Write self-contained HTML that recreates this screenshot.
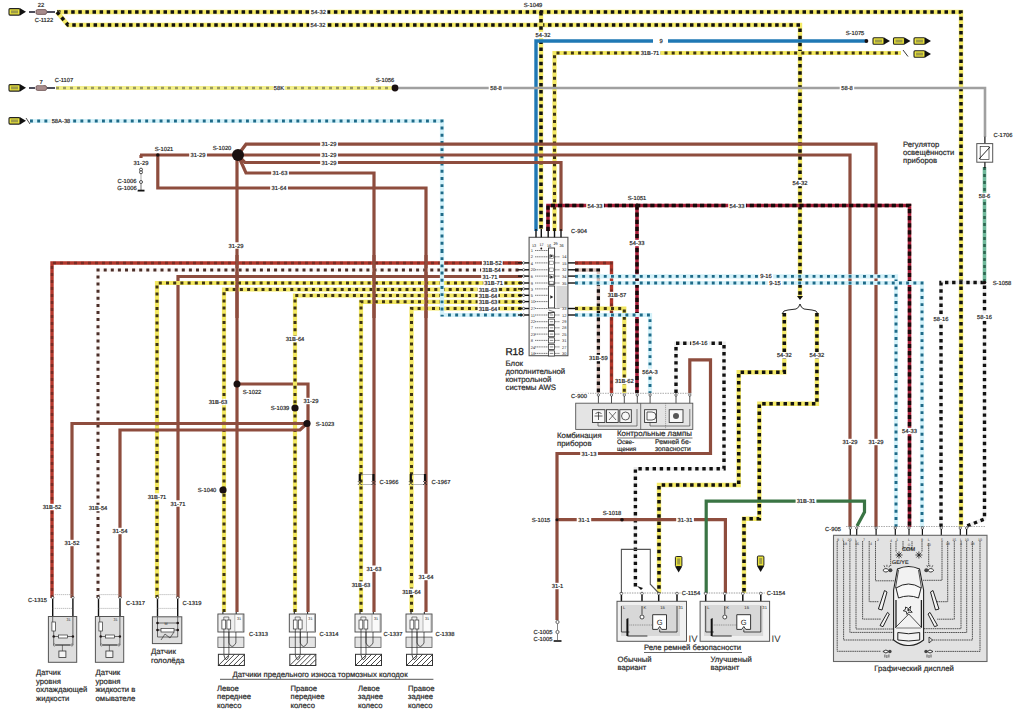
<!DOCTYPE html>
<html><head><meta charset="utf-8"><style>
html,body{margin:0;padding:0;background:#fff;overflow:hidden;}
svg{display:block;}
text{font-family:"Liberation Sans",sans-serif;text-rendering:geometricPrecision;}
</style></head><body>
<svg width="1016" height="712" viewBox="0 0 1016 712">
<rect width="1016" height="712" fill="#fff"/>
<path d="M57,12 L961,12 L961,527" fill="none" stroke="#f4ea68" stroke-width="4.4" stroke-linejoin="miter"/>
<path d="M57,12 L961,12 L961,527" fill="none" stroke="#111" stroke-width="3.5" stroke-linejoin="miter" stroke-dasharray="3.5 3.6"/>
<path d="M57,12 L68,25 L800,25 L800,298" fill="none" stroke="#f4ea68" stroke-width="4.4" stroke-linejoin="miter"/>
<path d="M57,12 L68,25 L800,25 L800,298" fill="none" stroke="#111" stroke-width="3.5" stroke-linejoin="miter" stroke-dasharray="3.5 3.6"/>
<path d="M541,12 L541,229" fill="none" stroke="#f4ea68" stroke-width="4.4" stroke-linejoin="miter"/>
<path d="M541,12 L541,229" fill="none" stroke="#111" stroke-width="3.5" stroke-linejoin="miter" stroke-dasharray="3.5 3.6"/>
<path d="M536,231 L536,41 L653,41" fill="none" stroke="#1f78b4" stroke-width="3.4" stroke-linejoin="miter"/>
<path d="M668,41 L866,41" fill="none" stroke="#1f78b4" stroke-width="3.4" stroke-linejoin="miter"/>
<path d="M554.5,231 L554.5,53 L901,53" fill="none" stroke="#f3e862" stroke-width="4.2" stroke-linejoin="miter"/>
<path d="M554.5,231 L554.5,53 L901,53" fill="none" stroke="#3e3414" stroke-width="3.0" stroke-linejoin="miter" stroke-dasharray="3 4.2"/>
<path d="M395,88 L985,88 L985,137" fill="none" stroke="#a0a0a0" stroke-width="2.6" stroke-linejoin="miter"/>
<path d="M56,88 L395,88" fill="none" stroke="#f3ef8a" stroke-width="4.0" stroke-linejoin="miter"/>
<path d="M56,88 L395,88" fill="none" stroke="#9a9a60" stroke-width="2.6" stroke-linejoin="miter" stroke-dasharray="3 4"/>
<path d="M30,121 L442,121 L442,315 L522,315" fill="none" stroke="#d4f2fa" stroke-width="4.2" stroke-linejoin="miter"/>
<path d="M30,121 L442,121 L442,315 L522,315" fill="none" stroke="#1f6a88" stroke-width="2.9" stroke-linejoin="miter" stroke-dasharray="2.9 4.3"/>
<path d="M140,155 L238,155" fill="none" stroke="#8e4d3e" stroke-width="3.2" stroke-linejoin="miter"/>
<path d="M157.8,155 L157.8,188 L426,188 L426,612" fill="none" stroke="#8e4d3e" stroke-width="3.2" stroke-linejoin="miter"/>
<path d="M238,155 L246,144.2 L876,144.2 L876,527" fill="none" stroke="#8e4d3e" stroke-width="3.2" stroke-linejoin="miter"/>
<path d="M238,155 L850,155 L850,527" fill="none" stroke="#8e4d3e" stroke-width="3.2" stroke-linejoin="miter"/>
<path d="M238,155 L245,162.5 L561,162.5 L561,231" fill="none" stroke="#8e4d3e" stroke-width="3.2" stroke-linejoin="miter"/>
<path d="M238,155 L246,173 L374,173 L374,612" fill="none" stroke="#8e4d3e" stroke-width="3.2" stroke-linejoin="miter"/>
<path d="M237,155 L237,612" fill="none" stroke="#8e4d3e" stroke-width="3.2" stroke-linejoin="miter"/>
<path d="M237,384 L308,384 L308,612" fill="none" stroke="#8e4d3e" stroke-width="3.2" stroke-linejoin="miter"/>
<path d="M52,598 L52,263 L522,263" fill="none" stroke="#b4382c" stroke-width="3.4" stroke-linejoin="miter"/>
<path d="M52,598 L52,263 L522,263" fill="none" stroke="#782c24" stroke-width="2.4" stroke-linejoin="miter" stroke-dasharray="3 4"/>
<path d="M98,598 L98,270 L522,270" fill="none" stroke="#fbf5f3" stroke-width="3.6" stroke-linejoin="miter"/>
<path d="M98,598 L98,270 L522,270" fill="none" stroke="#4a2e28" stroke-width="3.0" stroke-linejoin="miter" stroke-dasharray="3 4.1"/>
<path d="M178,598 L178,276.5 L522,276.5" fill="none" stroke="#8e4d3e" stroke-width="3.2" stroke-linejoin="miter"/>
<path d="M157,598 L157,283 L522,283" fill="none" stroke="#f3e862" stroke-width="4.2" stroke-linejoin="miter"/>
<path d="M157,598 L157,283 L522,283" fill="none" stroke="#3e3414" stroke-width="3.0" stroke-linejoin="miter" stroke-dasharray="3 4.2"/>
<path d="M224,612 L224,289.5 L522,289.5" fill="none" stroke="#f3e862" stroke-width="4.2" stroke-linejoin="miter"/>
<path d="M224,612 L224,289.5 L522,289.5" fill="none" stroke="#3e3414" stroke-width="3.0" stroke-linejoin="miter" stroke-dasharray="3 4.2"/>
<path d="M295,612 L295,295.5 L522,295.5" fill="none" stroke="#f3e862" stroke-width="4.2" stroke-linejoin="miter"/>
<path d="M295,612 L295,295.5 L522,295.5" fill="none" stroke="#3e3414" stroke-width="3.0" stroke-linejoin="miter" stroke-dasharray="3 4.2"/>
<path d="M361,612 L361,301.8 L522,301.8" fill="none" stroke="#f3e862" stroke-width="4.2" stroke-linejoin="miter"/>
<path d="M361,612 L361,301.8 L522,301.8" fill="none" stroke="#3e3414" stroke-width="3.0" stroke-linejoin="miter" stroke-dasharray="3 4.2"/>
<path d="M411.5,612 L411.5,308.5 L522,308.5" fill="none" stroke="#f3e862" stroke-width="4.2" stroke-linejoin="miter"/>
<path d="M411.5,612 L411.5,308.5 L522,308.5" fill="none" stroke="#3e3414" stroke-width="3.0" stroke-linejoin="miter" stroke-dasharray="3 4.2"/>
<path d="M72,598 L72,423.5 L307,423.5" fill="none" stroke="#8e4d3e" stroke-width="3.2" stroke-linejoin="miter"/>
<path d="M120,598 L120,430 L300,430 L307,423.5" fill="none" stroke="#8e4d3e" stroke-width="3.2" stroke-linejoin="miter"/>
<path d="M374,255 L374,318" fill="none" stroke="#8e4d3e" stroke-width="3.2" stroke-linejoin="miter"/>
<path d="M426,255 L426,318" fill="none" stroke="#8e4d3e" stroke-width="3.2" stroke-linejoin="miter"/>
<path d="M442,250 L442,315" fill="none" stroke="#d4f2fa" stroke-width="4.2" stroke-linejoin="miter"/>
<path d="M442,250 L442,315" fill="none" stroke="#1f6a88" stroke-width="2.9" stroke-linejoin="miter" stroke-dasharray="2.9 4.3"/>
<path d="M237,255 L237,318" fill="none" stroke="#8e4d3e" stroke-width="3.2" stroke-linejoin="miter"/>
<path d="M548,231 L548,205.5 L909.5,205.5 L909.5,527" fill="none" stroke="#a8203a" stroke-width="3.6" stroke-linejoin="miter"/>
<path d="M548,231 L548,205.5 L909.5,205.5 L909.5,527" fill="none" stroke="#150a0a" stroke-width="3.4" stroke-linejoin="miter" stroke-dasharray="4.2 2.9"/>
<path d="M637,205.5 L637,393" fill="none" stroke="#a8203a" stroke-width="3.6" stroke-linejoin="miter"/>
<path d="M637,205.5 L637,393" fill="none" stroke="#150a0a" stroke-width="3.4" stroke-linejoin="miter" stroke-dasharray="4.2 2.9"/>
<path d="M575,263 L611.5,263 L611.5,393" fill="none" stroke="#b4382c" stroke-width="3.4" stroke-linejoin="miter"/>
<path d="M575,263 L611.5,263 L611.5,393" fill="none" stroke="#782c24" stroke-width="2.4" stroke-linejoin="miter" stroke-dasharray="3 4"/>
<path d="M575,270 L598.4,270 L598.4,393" fill="none" stroke="#d8c0b8" stroke-width="3.4" stroke-linejoin="miter"/>
<path d="M575,270 L598.4,270 L598.4,393" fill="none" stroke="#141010" stroke-width="3.2" stroke-linejoin="miter" stroke-dasharray="3.6 3.5"/>
<path d="M575,276.4 L896,276.4 L896,527" fill="none" stroke="#d4f2fa" stroke-width="4.2" stroke-linejoin="miter"/>
<path d="M575,276.4 L896,276.4 L896,527" fill="none" stroke="#1f6a88" stroke-width="2.9" stroke-linejoin="miter" stroke-dasharray="2.9 4.3"/>
<path d="M575,283 L922,283 L922,527" fill="none" stroke="#d4f2fa" stroke-width="4.2" stroke-linejoin="miter"/>
<path d="M575,283 L922,283 L922,527" fill="none" stroke="#1f6a88" stroke-width="2.9" stroke-linejoin="miter" stroke-dasharray="2.9 4.3"/>
<path d="M575,308.5 L624.3,308.5 L624.3,393" fill="none" stroke="#f3e862" stroke-width="4.2" stroke-linejoin="miter"/>
<path d="M575,308.5 L624.3,308.5 L624.3,393" fill="none" stroke="#3e3414" stroke-width="3.0" stroke-linejoin="miter" stroke-dasharray="3 4.2"/>
<path d="M575,315 L650,315 L650,393" fill="none" stroke="#d4f2fa" stroke-width="4.2" stroke-linejoin="miter"/>
<path d="M575,315 L650,315 L650,393" fill="none" stroke="#1f6a88" stroke-width="2.9" stroke-linejoin="miter" stroke-dasharray="2.9 4.3"/>
<path d="M941,527 L941,282.5 L984.5,282.5 L984.5,519 L967,526" fill="none" stroke="#eeeeee" stroke-width="3.6" stroke-linejoin="miter"/>
<path d="M941,527 L941,282.5 L984.5,282.5 L984.5,519 L967,526" fill="none" stroke="#111" stroke-width="3.4" stroke-linejoin="miter" stroke-dasharray="3.4 3.7"/>
<path d="M984.5,167 L984.5,282.5" fill="none" stroke="#6fb89a" stroke-width="3.6" stroke-linejoin="miter"/>
<path d="M984.5,167 L984.5,282.5" fill="none" stroke="#2e6650" stroke-width="2.6" stroke-linejoin="miter" stroke-dasharray="3 4"/>
<path d="M784.3,313 L784.3,372.2 L738.7,372.2 L738.7,485 L659,485 L659,593" fill="none" stroke="#f4ea68" stroke-width="4.4" stroke-linejoin="miter"/>
<path d="M784.3,313 L784.3,372.2 L738.7,372.2 L738.7,485 L659,485 L659,593" fill="none" stroke="#111" stroke-width="3.5" stroke-linejoin="miter" stroke-dasharray="3.5 3.6"/>
<path d="M816.9,313 L816.9,403.8 L759.3,403.8 L759.3,518.8 L744,518.8 L744,593" fill="none" stroke="#f4ea68" stroke-width="4.4" stroke-linejoin="miter"/>
<path d="M816.9,313 L816.9,403.8 L759.3,403.8 L759.3,518.8 L744,518.8 L744,593" fill="none" stroke="#111" stroke-width="3.5" stroke-linejoin="miter" stroke-dasharray="3.5 3.6"/>
<path d="M676,393 L676,343.3 L724,343.3 L724,468.7 L635.4,468.7 L635.4,587" fill="none" stroke="#eeeeee" stroke-width="3.6" stroke-linejoin="miter"/>
<path d="M676,393 L676,343.3 L724,343.3 L724,468.7 L635.4,468.7 L635.4,587" fill="none" stroke="#111" stroke-width="3.4" stroke-linejoin="miter" stroke-dasharray="3.4 3.7"/>
<path d="M689.8,393 L689.8,359.9 L710.5,359.9 L710.5,453.5 L557,453.5 L557,620" fill="none" stroke="#8e4d3e" stroke-width="3.2" stroke-linejoin="miter"/>
<path d="M557,519.7 L725.4,519.7 L725.4,593" fill="none" stroke="#8e4d3e" stroke-width="3.2" stroke-linejoin="miter"/>
<path d="M706.2,593 L706.2,501.1 L864.5,501.1 L864.5,512 L857,526" fill="none" stroke="#3a7444" stroke-width="3.2" stroke-linejoin="miter"/>
<path d="M797,296 L800,300 L803,296 Z" fill="#111"/>
<path d="M782,314 Q783,310 788,310 L796,309 Q799,308 800,304 Q801,308 804,309 L812,310 Q817,310 818,314" fill="none" stroke="#111" stroke-width="0.9"/>
<rect x="9" y="8.6" width="11" height="6.5" rx="1" fill="#e8e23a" stroke="#222" stroke-width="1.1"/>
<rect x="11" y="10.4" width="7" height="2.9" fill="#555" opacity="0.5"/>
<path d="M20,8.299999999999999 L26,11.85 L20,15.4 Z" fill="#111"/>
<line x1="29" y1="12" x2="35" y2="12" stroke="#223" stroke-width="1.6"/>
<rect x="36" y="9.6" width="10.5" height="4.8" rx="1.5" fill="#a88c8c" stroke="#6a5050" stroke-width="0.8"/>
<line x1="47" y1="12" x2="55" y2="12" stroke="#223" stroke-width="1.6"/>
<rect x="9" y="84.6" width="11" height="6.5" rx="1" fill="#e8e23a" stroke="#222" stroke-width="1.1"/>
<rect x="11" y="86.39999999999999" width="7" height="2.9" fill="#555" opacity="0.5"/>
<path d="M20,84.3 L26,87.85 L20,91.39999999999999 Z" fill="#111"/>
<line x1="29" y1="88" x2="35" y2="88" stroke="#223" stroke-width="1.6"/>
<rect x="36" y="85.6" width="10.5" height="4.8" rx="1.5" fill="#a88c8c" stroke="#6a5050" stroke-width="0.8"/>
<line x1="47" y1="88" x2="55" y2="88" stroke="#223" stroke-width="1.6"/>
<rect x="9" y="117.6" width="11" height="6.5" rx="1" fill="#e8e23a" stroke="#222" stroke-width="1.1"/>
<rect x="11" y="119.39999999999999" width="7" height="2.9" fill="#555" opacity="0.5"/>
<path d="M20,117.3 L26,120.85 L20,124.39999999999999 Z" fill="#111"/>
<line x1="26" y1="118" x2="30" y2="124" stroke="#222" stroke-width="0.8"/>
<rect x="873" y="37.8" width="11" height="6.5" rx="1" fill="#e8e23a" stroke="#222" stroke-width="1.1"/>
<rect x="875" y="39.599999999999994" width="7" height="2.9" fill="#555" opacity="0.5"/>
<path d="M884,37.5 L890,41.05 L884,44.599999999999994 Z" fill="#111"/>
<rect x="893.5" y="37.8" width="11" height="6.5" rx="1" fill="#e8e23a" stroke="#222" stroke-width="1.1"/>
<rect x="895.5" y="39.599999999999994" width="7" height="2.9" fill="#555" opacity="0.5"/>
<path d="M904.5,37.5 L910.5,41.05 L904.5,44.599999999999994 Z" fill="#111"/>
<rect x="914" y="37.8" width="11" height="6.5" rx="1" fill="#e8e23a" stroke="#222" stroke-width="1.1"/>
<rect x="916" y="39.599999999999994" width="7" height="2.9" fill="#555" opacity="0.5"/>
<path d="M925,37.5 L931,41.05 L925,44.599999999999994 Z" fill="#111"/>
<rect x="914" y="50.8" width="11" height="6.5" rx="1" fill="#e8e23a" stroke="#222" stroke-width="1.1"/>
<rect x="916" y="52.599999999999994" width="7" height="2.9" fill="#555" opacity="0.5"/>
<path d="M925,50.5 L931,54.05 L925,57.599999999999994 Z" fill="#111"/>
<line x1="903" y1="50" x2="908" y2="56.5" stroke="#222" stroke-width="0.9"/>
<circle cx="866.4" cy="41" r="1.9" fill="#1a1010"/>
<rect x="675.4" y="556.5" width="6.5" height="10" rx="1" fill="#e8e23a" stroke="#222" stroke-width="1"/>
<rect x="677.1999999999999" y="558.5" width="2.9" height="6" fill="#555" opacity="0.5"/>
<path d="M675.1,566.5 L678.65,572.5 L682.1999999999999,566.5 Z" fill="#111"/>
<rect x="757.4" y="556" width="6.5" height="10" rx="1" fill="#e8e23a" stroke="#222" stroke-width="1"/>
<rect x="759.1999999999999" y="558" width="2.9" height="6" fill="#555" opacity="0.5"/>
<path d="M757.1,566 L760.65,572 L764.1999999999999,566 Z" fill="#111"/>
<rect x="529.1" y="237.3" width="38.8" height="118.4" fill="#fbfbfb" stroke="#555" stroke-width="1.1"/>
<rect x="556.5" y="286" width="10.5" height="22" fill="#d8d8d8"/>
<line x1="536" y1="229" x2="536" y2="237.3" stroke="#111" stroke-width="1.4"/>
<line x1="541.3" y1="229" x2="541.3" y2="237.3" stroke="#111" stroke-width="1.4"/>
<line x1="548.2" y1="229" x2="548.2" y2="237.3" stroke="#111" stroke-width="1.4"/>
<line x1="554.5" y1="229" x2="554.5" y2="237.3" stroke="#111" stroke-width="1.4"/>
<line x1="561" y1="229" x2="561" y2="237.3" stroke="#111" stroke-width="1.4"/>
<line x1="535" y1="250.5" x2="548.5" y2="250.5" stroke="#444" stroke-width="0.7" stroke-dasharray="1.3 0.5"/>
<text x="530.8" y="252.1" font-size="4.0" text-anchor="start" fill="#333" >1</text>
<line x1="535" y1="256.8" x2="548.5" y2="256.8" stroke="#444" stroke-width="0.7" stroke-dasharray="1.3 0.5"/>
<text x="530.8" y="258.40000000000003" font-size="4.0" text-anchor="start" fill="#333" >2</text>
<line x1="518" y1="262.9" x2="529.1" y2="262.9" stroke="#111" stroke-width="1.4"/>
<circle cx="523.6" cy="262.9" r="1.2" fill="#fff" stroke="#111" stroke-width="0.6"/>
<line x1="535" y1="262.9" x2="548.5" y2="262.9" stroke="#444" stroke-width="0.7" stroke-dasharray="1.3 0.5"/>
<text x="530.8" y="264.5" font-size="4.0" text-anchor="start" fill="#333" >4</text>
<line x1="518" y1="269.8" x2="529.1" y2="269.8" stroke="#111" stroke-width="1.4"/>
<circle cx="523.6" cy="269.8" r="1.2" fill="#fff" stroke="#111" stroke-width="0.6"/>
<line x1="535" y1="269.8" x2="548.5" y2="269.8" stroke="#444" stroke-width="0.7" stroke-dasharray="1.3 0.5"/>
<text x="530.8" y="271.40000000000003" font-size="4.0" text-anchor="start" fill="#333" >20</text>
<line x1="518" y1="276.1" x2="529.1" y2="276.1" stroke="#111" stroke-width="1.4"/>
<circle cx="523.6" cy="276.1" r="1.2" fill="#fff" stroke="#111" stroke-width="0.6"/>
<line x1="535" y1="276.1" x2="548.5" y2="276.1" stroke="#444" stroke-width="0.7" stroke-dasharray="1.3 0.5"/>
<text x="530.8" y="277.70000000000005" font-size="4.0" text-anchor="start" fill="#333" >6</text>
<line x1="518" y1="283" x2="529.1" y2="283" stroke="#111" stroke-width="1.4"/>
<circle cx="523.6" cy="283" r="1.2" fill="#fff" stroke="#111" stroke-width="0.6"/>
<line x1="535" y1="283" x2="548.5" y2="283" stroke="#444" stroke-width="0.7" stroke-dasharray="1.3 0.5"/>
<text x="530.8" y="284.6" font-size="4.0" text-anchor="start" fill="#333" >9</text>
<line x1="518" y1="288.9" x2="529.1" y2="288.9" stroke="#111" stroke-width="1.4"/>
<circle cx="523.6" cy="288.9" r="1.2" fill="#fff" stroke="#111" stroke-width="0.6"/>
<line x1="535" y1="288.9" x2="548.5" y2="288.9" stroke="#444" stroke-width="0.7" stroke-dasharray="1.3 0.5"/>
<text x="530.8" y="290.5" font-size="4.0" text-anchor="start" fill="#333" >3</text>
<line x1="518" y1="295.3" x2="529.1" y2="295.3" stroke="#111" stroke-width="1.4"/>
<circle cx="523.6" cy="295.3" r="1.2" fill="#fff" stroke="#111" stroke-width="0.6"/>
<line x1="535" y1="295.3" x2="548.5" y2="295.3" stroke="#444" stroke-width="0.7" stroke-dasharray="1.3 0.5"/>
<text x="530.8" y="296.90000000000003" font-size="4.0" text-anchor="start" fill="#333" >5</text>
<line x1="518" y1="301.6" x2="529.1" y2="301.6" stroke="#111" stroke-width="1.4"/>
<circle cx="523.6" cy="301.6" r="1.2" fill="#fff" stroke="#111" stroke-width="0.6"/>
<line x1="535" y1="301.6" x2="548.5" y2="301.6" stroke="#444" stroke-width="0.7" stroke-dasharray="1.3 0.5"/>
<text x="530.8" y="303.20000000000005" font-size="4.0" text-anchor="start" fill="#333" >10</text>
<line x1="518" y1="308.5" x2="529.1" y2="308.5" stroke="#111" stroke-width="1.4"/>
<circle cx="523.6" cy="308.5" r="1.2" fill="#fff" stroke="#111" stroke-width="0.6"/>
<line x1="535" y1="308.5" x2="548.5" y2="308.5" stroke="#444" stroke-width="0.7" stroke-dasharray="1.3 0.5"/>
<text x="530.8" y="310.1" font-size="4.0" text-anchor="start" fill="#333" >27</text>
<line x1="518" y1="315" x2="529.1" y2="315" stroke="#111" stroke-width="1.4"/>
<circle cx="523.6" cy="315" r="1.2" fill="#fff" stroke="#111" stroke-width="0.6"/>
<line x1="535" y1="315" x2="548.5" y2="315" stroke="#444" stroke-width="0.7" stroke-dasharray="1.3 0.5"/>
<text x="530.8" y="316.6" font-size="4.0" text-anchor="start" fill="#333" >11</text>
<line x1="535" y1="321.7" x2="548.5" y2="321.7" stroke="#444" stroke-width="0.7" stroke-dasharray="1.3 0.5"/>
<text x="530.8" y="323.3" font-size="4.0" text-anchor="start" fill="#333" >22</text>
<line x1="535" y1="327.8" x2="548.5" y2="327.8" stroke="#444" stroke-width="0.7" stroke-dasharray="1.3 0.5"/>
<text x="530.8" y="329.40000000000003" font-size="4.0" text-anchor="start" fill="#333" >7</text>
<line x1="535" y1="334.1" x2="548.5" y2="334.1" stroke="#444" stroke-width="0.7" stroke-dasharray="1.3 0.5"/>
<text x="530.8" y="335.70000000000005" font-size="4.0" text-anchor="start" fill="#333" >23</text>
<line x1="535" y1="340.4" x2="548.5" y2="340.4" stroke="#444" stroke-width="0.7" stroke-dasharray="1.3 0.5"/>
<text x="530.8" y="342.0" font-size="4.0" text-anchor="start" fill="#333" >8</text>
<line x1="535" y1="346.9" x2="548.5" y2="346.9" stroke="#444" stroke-width="0.7" stroke-dasharray="1.3 0.5"/>
<text x="530.8" y="348.5" font-size="4.0" text-anchor="start" fill="#333" >24</text>
<line x1="535" y1="353.4" x2="548.5" y2="353.4" stroke="#444" stroke-width="0.7" stroke-dasharray="1.3 0.5"/>
<text x="530.8" y="355.0" font-size="4.0" text-anchor="start" fill="#333" >18</text>
<line x1="554.6" y1="256.8" x2="560" y2="256.8" stroke="#444" stroke-width="0.7" stroke-dasharray="1.3 0.5"/>
<text x="566.5" y="258.40000000000003" font-size="4.0" text-anchor="end" fill="#333" >14</text>
<line x1="554.6" y1="262.9" x2="560" y2="262.9" stroke="#444" stroke-width="0.7" stroke-dasharray="1.3 0.5"/>
<line x1="568" y1="262.9" x2="575" y2="262.9" stroke="#111" stroke-width="1.4"/>
<text x="566.5" y="264.5" font-size="4.0" text-anchor="end" fill="#333" >15</text>
<line x1="554.6" y1="269.8" x2="560" y2="269.8" stroke="#444" stroke-width="0.7" stroke-dasharray="1.3 0.5"/>
<line x1="568" y1="269.8" x2="575" y2="269.8" stroke="#111" stroke-width="1.4"/>
<text x="566.5" y="271.40000000000003" font-size="4.0" text-anchor="end" fill="#333" >32</text>
<line x1="554.6" y1="276.1" x2="560" y2="276.1" stroke="#444" stroke-width="0.7" stroke-dasharray="1.3 0.5"/>
<line x1="568" y1="276.1" x2="575" y2="276.1" stroke="#111" stroke-width="1.4"/>
<text x="566.5" y="277.70000000000005" font-size="4.0" text-anchor="end" fill="#333" >34</text>
<line x1="554.6" y1="283" x2="560" y2="283" stroke="#444" stroke-width="0.7" stroke-dasharray="1.3 0.5"/>
<line x1="568" y1="283" x2="575" y2="283" stroke="#111" stroke-width="1.4"/>
<text x="566.5" y="284.6" font-size="4.0" text-anchor="end" fill="#333" >35</text>
<line x1="554.6" y1="308.5" x2="560" y2="308.5" stroke="#444" stroke-width="0.7" stroke-dasharray="1.3 0.5"/>
<line x1="568" y1="308.5" x2="575" y2="308.5" stroke="#111" stroke-width="1.4"/>
<text x="566.5" y="310.1" font-size="4.0" text-anchor="end" fill="#333" >33</text>
<line x1="554.6" y1="315" x2="560" y2="315" stroke="#444" stroke-width="0.7" stroke-dasharray="1.3 0.5"/>
<line x1="568" y1="315" x2="575" y2="315" stroke="#111" stroke-width="1.4"/>
<text x="566.5" y="316.6" font-size="4.0" text-anchor="end" fill="#333" >12</text>
<line x1="554.6" y1="321.7" x2="560" y2="321.7" stroke="#444" stroke-width="0.7" stroke-dasharray="1.3 0.5"/>
<text x="566.5" y="323.3" font-size="4.0" text-anchor="end" fill="#333" >29</text>
<line x1="554.6" y1="327.8" x2="560" y2="327.8" stroke="#444" stroke-width="0.7" stroke-dasharray="1.3 0.5"/>
<text x="566.5" y="329.40000000000003" font-size="4.0" text-anchor="end" fill="#333" >28</text>
<line x1="554.6" y1="334.1" x2="560" y2="334.1" stroke="#444" stroke-width="0.7" stroke-dasharray="1.3 0.5"/>
<text x="566.5" y="335.70000000000005" font-size="4.0" text-anchor="end" fill="#333" >25</text>
<line x1="554.6" y1="340.4" x2="560" y2="340.4" stroke="#444" stroke-width="0.7" stroke-dasharray="1.3 0.5"/>
<text x="566.5" y="342.0" font-size="4.0" text-anchor="end" fill="#333" >31</text>
<line x1="554.6" y1="346.9" x2="560" y2="346.9" stroke="#444" stroke-width="0.7" stroke-dasharray="1.3 0.5"/>
<text x="566.5" y="348.5" font-size="4.0" text-anchor="end" fill="#333" >27</text>
<line x1="554.6" y1="353.4" x2="560" y2="353.4" stroke="#444" stroke-width="0.7" stroke-dasharray="1.3 0.5"/>
<text x="566.5" y="355.0" font-size="4.0" text-anchor="end" fill="#333" >30</text>
<rect x="548.5" y="248" width="6.1" height="36.3" fill="#fff" stroke="#333" stroke-width="0.9"/>
<rect x="548.5" y="286" width="6.1" height="22" fill="#fff" stroke="#333" stroke-width="0.9"/>
<path d="M550.3,254.2 L553.3,256 L550.3,257.8 Z" fill="#222"/>
<path d="M550.3,275.2 L553.3,277 L550.3,278.8 Z" fill="#222"/>
<path d="M550.3,295.2 L553.3,297 L550.3,298.8 Z" fill="#222"/>
<rect x="549.5" y="255.0" width="4.2" height="3.6" fill="none" stroke="#555" stroke-width="0.5"/>
<rect x="549.5" y="261.09999999999997" width="4.2" height="3.6" fill="none" stroke="#555" stroke-width="0.5"/>
<rect x="549.5" y="268.0" width="4.2" height="3.6" fill="none" stroke="#555" stroke-width="0.5"/>
<rect x="549.5" y="274.3" width="4.2" height="3.6" fill="none" stroke="#555" stroke-width="0.5"/>
<rect x="549.5" y="281.2" width="4.2" height="3.6" fill="none" stroke="#555" stroke-width="0.5"/>
<rect x="548.5" y="312.4" width="6.1" height="5.2" fill="#fff" stroke="#333" stroke-width="0.8"/>
<line x1="549.8" y1="315" x2="553.3" y2="315" stroke="#333" stroke-width="0.6"/>
<rect x="548.5" y="319.09999999999997" width="6.1" height="5.2" fill="#fff" stroke="#333" stroke-width="0.8"/>
<line x1="549.8" y1="321.7" x2="553.3" y2="321.7" stroke="#333" stroke-width="0.6"/>
<rect x="548.5" y="325.2" width="6.1" height="5.2" fill="#fff" stroke="#333" stroke-width="0.8"/>
<line x1="549.8" y1="327.8" x2="553.3" y2="327.8" stroke="#333" stroke-width="0.6"/>
<rect x="548.5" y="331.5" width="6.1" height="5.2" fill="#fff" stroke="#333" stroke-width="0.8"/>
<line x1="549.8" y1="334.1" x2="553.3" y2="334.1" stroke="#333" stroke-width="0.6"/>
<rect x="548.5" y="337.79999999999995" width="6.1" height="5.2" fill="#fff" stroke="#333" stroke-width="0.8"/>
<line x1="549.8" y1="340.4" x2="553.3" y2="340.4" stroke="#333" stroke-width="0.6"/>
<rect x="548.5" y="344.29999999999995" width="6.1" height="5.2" fill="#fff" stroke="#333" stroke-width="0.8"/>
<line x1="549.8" y1="346.9" x2="553.3" y2="346.9" stroke="#333" stroke-width="0.6"/>
<rect x="548.5" y="350.79999999999995" width="6.1" height="5.2" fill="#fff" stroke="#333" stroke-width="0.8"/>
<line x1="549.8" y1="353.4" x2="553.3" y2="353.4" stroke="#333" stroke-width="0.6"/>
<path d="M548.5,310 L554.6,312 L548.5,314" fill="none" stroke="#333" stroke-width="0.6"/>
<text x="532" y="246.5" font-size="3.8" text-anchor="start" fill="#222" >13</text>
<text x="539.5" y="245.5" font-size="3.8" text-anchor="start" fill="#222" >17</text>
<text x="547" y="246.5" font-size="3.8" text-anchor="start" fill="#222" >16</text>
<text x="553.5" y="244.5" font-size="3.8" text-anchor="start" fill="#222" >29</text>
<text x="559.5" y="246.5" font-size="3.8" text-anchor="start" fill="#222" >36</text>
<circle cx="541.3" cy="248.5" r="0.9" fill="#1a1010"/>
<line x1="575" y1="393.3" x2="692" y2="393.3" stroke="#888" stroke-width="0.7" stroke-dasharray="1.5 1"/>
<circle cx="598.4" cy="395" r="1.2" fill="#fff" stroke="#222" stroke-width="0.6"/>
<line x1="598.4" y1="396" x2="598.4" y2="409" stroke="#222" stroke-width="0.8"/>
<circle cx="611.5" cy="395" r="1.2" fill="#fff" stroke="#222" stroke-width="0.6"/>
<line x1="611.5" y1="396" x2="611.5" y2="409" stroke="#222" stroke-width="0.8"/>
<circle cx="624.3" cy="395" r="1.2" fill="#fff" stroke="#222" stroke-width="0.6"/>
<line x1="624.3" y1="396" x2="624.3" y2="409" stroke="#222" stroke-width="0.8"/>
<circle cx="637.3" cy="395" r="1.2" fill="#fff" stroke="#222" stroke-width="0.6"/>
<line x1="637.3" y1="396" x2="637.3" y2="409" stroke="#222" stroke-width="0.8"/>
<circle cx="650.1" cy="395" r="1.2" fill="#fff" stroke="#222" stroke-width="0.6"/>
<line x1="650.1" y1="396" x2="650.1" y2="409" stroke="#222" stroke-width="0.8"/>
<circle cx="676" cy="395" r="1.2" fill="#fff" stroke="#222" stroke-width="0.6"/>
<line x1="676" y1="396" x2="676" y2="409" stroke="#222" stroke-width="0.8"/>
<circle cx="689.8" cy="395" r="1.2" fill="#fff" stroke="#222" stroke-width="0.6"/>
<line x1="689.8" y1="396" x2="689.8" y2="409" stroke="#222" stroke-width="0.8"/>
<rect x="575.7" y="403.2" width="117.1" height="26.2" fill="#e4e4e4" stroke="#555" stroke-width="0.9"/>
<line x1="640.7" y1="403.2" x2="640.7" y2="429.4" stroke="#555" stroke-width="0.8"/>
<line x1="665.6" y1="403.2" x2="665.6" y2="429.4" stroke="#666" stroke-width="0.6" stroke-dasharray="1 1"/>
<rect x="592.5" y="409.7" width="12.399999999999977" height="12.8" fill="#f8f8f8" stroke="#333" stroke-width="0.9"/>
<rect x="606.5" y="409.7" width="11.700000000000045" height="12.8" fill="#f8f8f8" stroke="#333" stroke-width="0.9"/>
<rect x="619.8" y="409.7" width="11.5" height="12.8" fill="#f8f8f8" stroke="#333" stroke-width="0.9"/>
<rect x="644.6" y="409.7" width="11.799999999999955" height="12.8" fill="#f8f8f8" stroke="#333" stroke-width="0.9"/>
<rect x="669.2" y="409.7" width="13.799999999999955" height="12.8" fill="#f8f8f8" stroke="#333" stroke-width="0.9"/>
<path d="M598,422.5 L598,426 L637,426 L637,409" fill="none" stroke="#333" stroke-width="0.6"/>
<path d="M650,422.5 L650,426 L689.8,426 L689.8,409" fill="none" stroke="#333" stroke-width="0.6"/>
<path d="M594.5,416 L602.5,416 M598.5,412 L598.5,420 M595.5,413.5 Q598.5,411 601.5,413.5" fill="none" stroke="#333" stroke-width="0.8"/>
<path d="M609,412 L616,420 M616,412 L609,420" stroke="#333" stroke-width="0.7"/>
<circle cx="625.5" cy="416" r="4" fill="none" stroke="#333" stroke-width="0.8"/>
<path d="M647,412 L652,412 A4,4 0 0 1 652,420 L647,420 Z" fill="none" stroke="#333" stroke-width="0.8"/>
<circle cx="676" cy="416" r="3" fill="#555"/>
<line x1="619.4" y1="593" x2="681" y2="593" stroke="#777" stroke-width="0.7" stroke-dasharray="1.5 1"/>
<circle cx="621.4" cy="593.5" r="1.3" fill="#fff" stroke="#222" stroke-width="0.6"/>
<line x1="621.4" y1="595" x2="621.4" y2="606" stroke="#111" stroke-width="1.5"/>
<circle cx="642" cy="593.5" r="1.3" fill="#fff" stroke="#222" stroke-width="0.6"/>
<line x1="642" y1="595" x2="642" y2="606" stroke="#111" stroke-width="1.5"/>
<circle cx="658.7" cy="593.5" r="1.3" fill="#fff" stroke="#222" stroke-width="0.6"/>
<line x1="658.7" y1="595" x2="658.7" y2="606" stroke="#111" stroke-width="1.5"/>
<circle cx="677" cy="593.5" r="1.3" fill="#fff" stroke="#222" stroke-width="0.6"/>
<line x1="677" y1="595" x2="677" y2="606" stroke="#111" stroke-width="1.5"/>
<rect x="617" y="601.3" width="69.5" height="40" fill="#f0f0f0" stroke="#555" stroke-width="1"/>
<rect x="621" y="605" width="59" height="31" fill="#d8d8d8"/>
<text x="622.9" y="609" font-size="4.2" text-anchor="start" fill="#222" >L</text>
<text x="643.5" y="609" font-size="4.2" text-anchor="start" fill="#222" >K</text>
<text x="660.2" y="609" font-size="4.2" text-anchor="start" fill="#222" >15</text>
<text x="678.5" y="609" font-size="4.2" text-anchor="start" fill="#222" >31</text>
<line x1="621.4" y1="606" x2="621.4" y2="632" stroke="#222" stroke-width="0.8"/>
<line x1="621.4" y1="632" x2="629.4" y2="632" stroke="#222" stroke-width="0.8"/>
<path d="M626.4,619 L628.4,618 L628.4,636 L626.4,636 Z" fill="#111"/>
<path d="M627.4,636 L647.4,636" fill="none" stroke="#222" stroke-width="0.9"/>
<line x1="642" y1="606" x2="642" y2="614.5" stroke="#222" stroke-width="0.8"/>
<circle cx="642" cy="617" r="2" fill="#fff" stroke="#222" stroke-width="0.8"/>
<line x1="629.4" y1="625" x2="652.7" y2="625" stroke="#444" stroke-width="0.5" stroke-dasharray="1 0.8"/>
<path d="M652.7,614.7 L666.5,614.7 L666.5,629.4 L661.7,629.4 L659.7,626.5 L657.7,629.4 L652.7,629.4 Z" fill="#fff" stroke="#222" stroke-width="0.9"/>
<text x="659.6" y="625.3" font-size="7.5" text-anchor="middle" fill="#111" >G</text>
<path d="M659.7,629.4 L659.7,632 L677,632 L677,606" fill="none" stroke="#222" stroke-width="0.8"/>
<line x1="703.7" y1="593" x2="764.8" y2="593" stroke="#777" stroke-width="0.7" stroke-dasharray="1.5 1"/>
<circle cx="705.7" cy="593.5" r="1.3" fill="#fff" stroke="#222" stroke-width="0.6"/>
<line x1="705.7" y1="595" x2="705.7" y2="606" stroke="#111" stroke-width="1.5"/>
<circle cx="724.8" cy="593.5" r="1.3" fill="#fff" stroke="#222" stroke-width="0.6"/>
<line x1="724.8" y1="595" x2="724.8" y2="606" stroke="#111" stroke-width="1.5"/>
<circle cx="742.8" cy="593.5" r="1.3" fill="#fff" stroke="#222" stroke-width="0.6"/>
<line x1="742.8" y1="595" x2="742.8" y2="606" stroke="#111" stroke-width="1.5"/>
<circle cx="760.8" cy="593.5" r="1.3" fill="#fff" stroke="#222" stroke-width="0.6"/>
<line x1="760.8" y1="595" x2="760.8" y2="606" stroke="#111" stroke-width="1.5"/>
<rect x="700.1" y="601.3" width="69.5" height="40" fill="#f0f0f0" stroke="#555" stroke-width="1"/>
<rect x="704.1" y="605" width="59" height="31" fill="#d8d8d8"/>
<text x="707.2" y="609" font-size="4.2" text-anchor="start" fill="#222" >L</text>
<text x="726.3" y="609" font-size="4.2" text-anchor="start" fill="#222" >K</text>
<text x="744.3" y="609" font-size="4.2" text-anchor="start" fill="#222" >15</text>
<text x="762.3" y="609" font-size="4.2" text-anchor="start" fill="#222" >31</text>
<line x1="705.7" y1="606" x2="705.7" y2="632" stroke="#222" stroke-width="0.8"/>
<line x1="705.7" y1="632" x2="713.7" y2="632" stroke="#222" stroke-width="0.8"/>
<path d="M710.7,619 L712.7,618 L712.7,636 L710.7,636 Z" fill="#111"/>
<path d="M711.7,636 L731.7,636" fill="none" stroke="#222" stroke-width="0.9"/>
<line x1="724.8" y1="606" x2="724.8" y2="614.5" stroke="#222" stroke-width="0.8"/>
<circle cx="724.8" cy="617" r="2" fill="#fff" stroke="#222" stroke-width="0.8"/>
<line x1="713.7" y1="625" x2="736.8" y2="625" stroke="#444" stroke-width="0.5" stroke-dasharray="1 0.8"/>
<path d="M736.8,614.7 L750.5999999999999,614.7 L750.5999999999999,629.4 L745.8,629.4 L743.8,626.5 L741.8,629.4 L736.8,629.4 Z" fill="#fff" stroke="#222" stroke-width="0.9"/>
<text x="743.6999999999999" y="625.3" font-size="7.5" text-anchor="middle" fill="#111" >G</text>
<path d="M743.8,629.4 L743.8,632 L760.8,632 L760.8,606" fill="none" stroke="#222" stroke-width="0.8"/>
<path d="M621.4,593 L621.4,549.4 L650.3,549.4 L650.3,584.2 L658.7,593" fill="none" stroke="#555" stroke-width="1.1"/>
<path d="M641,590 L637,586 L643,588 Z" fill="#111"/>
<text x="688.5" y="641.5" font-size="9.5" text-anchor="start" fill="#333" >IV</text>
<text x="771.5" y="641.5" font-size="9.5" text-anchor="start" fill="#333" >IV</text>
<circle cx="557.5" cy="622" r="1.6" fill="#fff" stroke="#222" stroke-width="0.7"/>
<circle cx="557.5" cy="632" r="1.6" fill="#fff" stroke="#222" stroke-width="0.7"/>
<line x1="557.5" y1="624" x2="557.5" y2="630" stroke="#333" stroke-width="0.6"/>
<line x1="557.5" y1="634" x2="557.5" y2="640" stroke="#333" stroke-width="0.6"/>
<line x1="553.5" y1="641" x2="561.5" y2="641" stroke="#111" stroke-width="1.6"/>
<path d="M141,155 L141,158" fill="none" stroke="#8e4d3e" stroke-width="3.2" stroke-linejoin="miter"/>
<circle cx="141" cy="169.6" r="1.5" fill="#fff" stroke="#222" stroke-width="0.8"/>
<circle cx="141" cy="172.3" r="1.5" fill="#fff" stroke="#222" stroke-width="0.8"/>
<circle cx="141" cy="182" r="1.5" fill="#fff" stroke="#222" stroke-width="0.8"/>
<line x1="141" y1="174" x2="141" y2="180" stroke="#555" stroke-width="0.5"/>
<line x1="141" y1="184" x2="141" y2="190" stroke="#333" stroke-width="0.7"/>
<line x1="137.5" y1="190.6" x2="144.5" y2="190.6" stroke="#111" stroke-width="1.8"/>
<line x1="984.9" y1="136.7" x2="984.9" y2="143.6" stroke="#111" stroke-width="1.2"/>
<rect x="976.8" y="143.6" width="15.9" height="18.6" fill="#fff" stroke="#555" stroke-width="1"/>
<rect x="980.2" y="146.5" width="8.8" height="13" fill="none" stroke="#333" stroke-width="0.7"/>
<line x1="979" y1="159" x2="990" y2="147" stroke="#111" stroke-width="0.9"/>
<line x1="984.9" y1="162.2" x2="984.9" y2="168" stroke="#111" stroke-width="1.2"/>
<line x1="52.7" y1="594.6" x2="72.9" y2="594.6" stroke="#888" stroke-width="0.6" stroke-dasharray="1.2 0.8"/>
<circle cx="52.7" cy="597.6" r="1.2" fill="#fff" stroke="#222" stroke-width="0.6"/>
<line x1="52.7" y1="599.1" x2="52.7" y2="616.5" stroke="#111" stroke-width="1.4"/>
<circle cx="72.9" cy="597.6" r="1.2" fill="#fff" stroke="#222" stroke-width="0.6"/>
<line x1="72.9" y1="599.1" x2="72.9" y2="616.5" stroke="#111" stroke-width="1.4"/>
<line x1="52.7" y1="608.4" x2="72.9" y2="608.4" stroke="#888" stroke-width="0.6" stroke-dasharray="1.2 0.8"/>
<line x1="98.5" y1="594.6" x2="120" y2="594.6" stroke="#888" stroke-width="0.6" stroke-dasharray="1.2 0.8"/>
<circle cx="98.5" cy="597.6" r="1.2" fill="#fff" stroke="#222" stroke-width="0.6"/>
<line x1="98.5" y1="599.1" x2="98.5" y2="616.5" stroke="#111" stroke-width="1.4"/>
<circle cx="120" cy="597.6" r="1.2" fill="#fff" stroke="#222" stroke-width="0.6"/>
<line x1="120" y1="599.1" x2="120" y2="616.5" stroke="#111" stroke-width="1.4"/>
<line x1="98.5" y1="608.4" x2="120" y2="608.4" stroke="#888" stroke-width="0.6" stroke-dasharray="1.2 0.8"/>
<line x1="157.5" y1="594.6" x2="177.7" y2="594.6" stroke="#888" stroke-width="0.6" stroke-dasharray="1.2 0.8"/>
<circle cx="157.5" cy="597.6" r="1.2" fill="#fff" stroke="#222" stroke-width="0.6"/>
<line x1="157.5" y1="599.1" x2="157.5" y2="616.5" stroke="#111" stroke-width="1.4"/>
<circle cx="177.7" cy="597.6" r="1.2" fill="#fff" stroke="#222" stroke-width="0.6"/>
<line x1="177.7" y1="599.1" x2="177.7" y2="616.5" stroke="#111" stroke-width="1.4"/>
<line x1="157.5" y1="608.4" x2="177.7" y2="608.4" stroke="#888" stroke-width="0.6" stroke-dasharray="1.2 0.8"/>
<rect x="48.4" y="616.5" width="28.3" height="45.8" fill="#dedede" stroke="#555" stroke-width="1"/>
<rect x="51.9" y="622" width="3.6" height="9" fill="#fff" stroke="#333" stroke-width="0.7"/>
<line x1="53.699999999999996" y1="631" x2="53.699999999999996" y2="636.5" stroke="#333" stroke-width="0.7"/>
<line x1="52.699999999999996" y1="616.5" x2="52.699999999999996" y2="622" stroke="#333" stroke-width="0.7"/>
<line x1="53.699999999999996" y1="636.5" x2="72.9" y2="636.5" stroke="#333" stroke-width="0.7"/>
<rect x="58.4" y="635" width="9" height="3" fill="#fff" stroke="#333" stroke-width="0.7"/>
<circle cx="53.699999999999996" cy="636.5" r="1.2" fill="#1a1010"/>
<circle cx="72.9" cy="636.5" r="1.2" fill="#1a1010"/>
<line x1="72.9" y1="616.5" x2="72.9" y2="645" stroke="#333" stroke-width="0.7"/>
<line x1="53.699999999999996" y1="636.5" x2="53.699999999999996" y2="645" stroke="#333" stroke-width="0.7"/>
<line x1="55.4" y1="645" x2="70.4" y2="645" stroke="#222" stroke-width="1.1"/>
<circle cx="54.4" cy="645" r="1" fill="#fff" stroke="#333" stroke-width="0.6"/>
<circle cx="71.9" cy="645" r="1" fill="#fff" stroke="#333" stroke-width="0.6"/>
<line x1="62.4" y1="645" x2="62.4" y2="651" stroke="#333" stroke-width="0.6"/>
<rect x="58.9" y="651" width="7" height="6.5" fill="#f4f4f4" stroke="#333" stroke-width="0.8"/>
<text x="66.4" y="621" font-size="3.8" text-anchor="start" fill="#333" >31</text>
<rect x="95.4" y="616.5" width="28.3" height="45.8" fill="#dedede" stroke="#555" stroke-width="1"/>
<rect x="98.9" y="622" width="3.6" height="9" fill="#fff" stroke="#333" stroke-width="0.7"/>
<line x1="100.7" y1="631" x2="100.7" y2="636.5" stroke="#333" stroke-width="0.7"/>
<line x1="99.7" y1="616.5" x2="99.7" y2="622" stroke="#333" stroke-width="0.7"/>
<line x1="100.7" y1="636.5" x2="119.9" y2="636.5" stroke="#333" stroke-width="0.7"/>
<rect x="105.4" y="635" width="9" height="3" fill="#fff" stroke="#333" stroke-width="0.7"/>
<circle cx="100.7" cy="636.5" r="1.2" fill="#1a1010"/>
<circle cx="119.9" cy="636.5" r="1.2" fill="#1a1010"/>
<line x1="119.9" y1="616.5" x2="119.9" y2="645" stroke="#333" stroke-width="0.7"/>
<line x1="100.7" y1="636.5" x2="100.7" y2="645" stroke="#333" stroke-width="0.7"/>
<line x1="102.4" y1="645" x2="117.4" y2="645" stroke="#222" stroke-width="1.1"/>
<circle cx="101.4" cy="645" r="1" fill="#fff" stroke="#333" stroke-width="0.6"/>
<circle cx="118.9" cy="645" r="1" fill="#fff" stroke="#333" stroke-width="0.6"/>
<line x1="109.4" y1="645" x2="109.4" y2="651" stroke="#333" stroke-width="0.6"/>
<rect x="105.9" y="651" width="7" height="6.5" fill="#f4f4f4" stroke="#333" stroke-width="0.8"/>
<text x="113.4" y="621" font-size="3.8" text-anchor="start" fill="#333" >31</text>
<rect x="152.4" y="616.8" width="29.4" height="26.8" fill="#dedede" stroke="#555" stroke-width="1"/>
<line x1="157.5" y1="616.5" x2="157.5" y2="637" stroke="#333" stroke-width="0.7"/>
<line x1="177.7" y1="616.5" x2="177.7" y2="637" stroke="#333" stroke-width="0.7"/>
<circle cx="157.5" cy="623" r="1.3" fill="#1a1010"/>
<circle cx="177.7" cy="623" r="1.3" fill="#1a1010"/>
<circle cx="157.5" cy="630" r="1.3" fill="#1a1010"/>
<circle cx="177.7" cy="630" r="1.3" fill="#1a1010"/>
<line x1="157.5" y1="623" x2="177.7" y2="623" stroke="#333" stroke-width="0.7"/>
<rect x="161" y="628.5" width="13" height="3.5" fill="#fff" stroke="#333" stroke-width="0.7"/>
<line x1="157.5" y1="630" x2="161" y2="630" stroke="#333" stroke-width="0.7"/>
<line x1="174" y1="630" x2="177.7" y2="630" stroke="#333" stroke-width="0.7"/>
<path d="M157.5,637 L177.7,637" fill="none" stroke="#333" stroke-width="0.7"/>
<path d="M161,640 L165,634 L170,638 L174,632" fill="none" stroke="#333" stroke-width="0.7"/>
<text x="166" y="624.5" font-size="3.6" text-anchor="middle" fill="#222" >M</text>
<line x1="222.9" y1="612" x2="222.9" y2="614" stroke="#111" stroke-width="1"/>
<line x1="236.20000000000002" y1="612" x2="236.20000000000002" y2="614" stroke="#111" stroke-width="1"/>
<rect x="217.9" y="614" width="26" height="18" fill="#f0f0f0" stroke="#444" stroke-width="0.9"/>
<rect x="234.9" y="614.5" width="8" height="17" fill="#fafafa" stroke="#888" stroke-width="0.6"/>
<rect x="221.9" y="620" width="3.8" height="9" fill="#fff" stroke="#333" stroke-width="0.7"/>
<rect x="226.9" y="620" width="3.8" height="9" fill="#fff" stroke="#333" stroke-width="0.7"/>
<path d="M223.8,620 L223.8,617 L228.8,617 L228.8,620" fill="none" stroke="#333" stroke-width="0.6"/>
<text x="236.9" y="619.5" font-size="3.8" text-anchor="start" fill="#222" >31</text>
<rect x="217.9" y="637.1" width="26" height="10.3" fill="#e4e4e4" stroke="#555" stroke-width="0.8"/>
<line x1="223.9" y1="629" x2="223.9" y2="660" stroke="#222" stroke-width="0.7"/>
<line x1="228.9" y1="629" x2="228.9" y2="655" stroke="#222" stroke-width="0.7"/>
<path d="M228.9,632 L228.9,643 Q231.9,650 235.9,643 L235.9,632" fill="none" stroke="#222" stroke-width="0.7"/>
<rect x="218.4" y="654.3" width="26" height="11.2" fill="#fff" stroke="#333" stroke-width="1"/>
<line x1="218.4" y1="665.5" x2="229.6" y2="654.3" stroke="#333" stroke-width="0.9"/>
<line x1="223.4" y1="665.5" x2="234.6" y2="654.3" stroke="#333" stroke-width="0.9"/>
<line x1="228.4" y1="665.5" x2="239.6" y2="654.3" stroke="#333" stroke-width="0.9"/>
<line x1="233.4" y1="665.5" x2="244.4" y2="654.5" stroke="#333" stroke-width="0.9"/>
<line x1="238.4" y1="665.5" x2="244.4" y2="659.5" stroke="#333" stroke-width="0.9"/>
<line x1="243.4" y1="665.5" x2="244.4" y2="664.5" stroke="#333" stroke-width="0.9"/>
<path d="M223.9,655 Q225.9,664 228.9,656" fill="none" stroke="#222" stroke-width="0.8"/>
<line x1="294.3" y1="612" x2="294.3" y2="614" stroke="#111" stroke-width="1"/>
<line x1="307.6" y1="612" x2="307.6" y2="614" stroke="#111" stroke-width="1"/>
<rect x="289.3" y="614" width="26" height="18" fill="#f0f0f0" stroke="#444" stroke-width="0.9"/>
<rect x="306.3" y="614.5" width="8" height="17" fill="#fafafa" stroke="#888" stroke-width="0.6"/>
<rect x="293.3" y="620" width="3.8" height="9" fill="#fff" stroke="#333" stroke-width="0.7"/>
<rect x="298.3" y="620" width="3.8" height="9" fill="#fff" stroke="#333" stroke-width="0.7"/>
<path d="M295.2,620 L295.2,617 L300.2,617 L300.2,620" fill="none" stroke="#333" stroke-width="0.6"/>
<text x="308.3" y="619.5" font-size="3.8" text-anchor="start" fill="#222" >31</text>
<rect x="289.3" y="637.1" width="26" height="10.3" fill="#e4e4e4" stroke="#555" stroke-width="0.8"/>
<line x1="295.3" y1="629" x2="295.3" y2="660" stroke="#222" stroke-width="0.7"/>
<line x1="300.3" y1="629" x2="300.3" y2="655" stroke="#222" stroke-width="0.7"/>
<path d="M300.3,632 L300.3,643 Q303.3,650 307.3,643 L307.3,632" fill="none" stroke="#222" stroke-width="0.7"/>
<rect x="289.8" y="654.3" width="26" height="11.2" fill="#fff" stroke="#333" stroke-width="1"/>
<line x1="289.8" y1="665.5" x2="301.0" y2="654.3" stroke="#333" stroke-width="0.9"/>
<line x1="294.8" y1="665.5" x2="306.0" y2="654.3" stroke="#333" stroke-width="0.9"/>
<line x1="299.8" y1="665.5" x2="311.0" y2="654.3" stroke="#333" stroke-width="0.9"/>
<line x1="304.8" y1="665.5" x2="315.8" y2="654.5" stroke="#333" stroke-width="0.9"/>
<line x1="309.8" y1="665.5" x2="315.8" y2="659.5" stroke="#333" stroke-width="0.9"/>
<line x1="314.8" y1="665.5" x2="315.8" y2="664.5" stroke="#333" stroke-width="0.9"/>
<path d="M295.3,655 Q297.3,664 300.3,656" fill="none" stroke="#222" stroke-width="0.8"/>
<line x1="360" y1="612" x2="360" y2="614" stroke="#111" stroke-width="1"/>
<line x1="373.3" y1="612" x2="373.3" y2="614" stroke="#111" stroke-width="1"/>
<rect x="355" y="614" width="26" height="18" fill="#f0f0f0" stroke="#444" stroke-width="0.9"/>
<rect x="372" y="614.5" width="8" height="17" fill="#fafafa" stroke="#888" stroke-width="0.6"/>
<rect x="359" y="620" width="3.8" height="9" fill="#fff" stroke="#333" stroke-width="0.7"/>
<rect x="364" y="620" width="3.8" height="9" fill="#fff" stroke="#333" stroke-width="0.7"/>
<path d="M360.9,620 L360.9,617 L365.9,617 L365.9,620" fill="none" stroke="#333" stroke-width="0.6"/>
<text x="374" y="619.5" font-size="3.8" text-anchor="start" fill="#222" >31</text>
<rect x="355" y="637.1" width="26" height="10.3" fill="#e4e4e4" stroke="#555" stroke-width="0.8"/>
<line x1="361" y1="629" x2="361" y2="660" stroke="#222" stroke-width="0.7"/>
<line x1="366" y1="629" x2="366" y2="655" stroke="#222" stroke-width="0.7"/>
<path d="M366,632 L366,643 Q369,650 373,643 L373,632" fill="none" stroke="#222" stroke-width="0.7"/>
<rect x="355.5" y="654.3" width="26" height="11.2" fill="#fff" stroke="#333" stroke-width="1"/>
<line x1="355.5" y1="665.5" x2="366.7" y2="654.3" stroke="#333" stroke-width="0.9"/>
<line x1="360.5" y1="665.5" x2="371.7" y2="654.3" stroke="#333" stroke-width="0.9"/>
<line x1="365.5" y1="665.5" x2="376.7" y2="654.3" stroke="#333" stroke-width="0.9"/>
<line x1="370.5" y1="665.5" x2="381.5" y2="654.5" stroke="#333" stroke-width="0.9"/>
<line x1="375.5" y1="665.5" x2="381.5" y2="659.5" stroke="#333" stroke-width="0.9"/>
<line x1="380.5" y1="665.5" x2="381.5" y2="664.5" stroke="#333" stroke-width="0.9"/>
<path d="M361,655 Q363,664 366,656" fill="none" stroke="#222" stroke-width="0.8"/>
<line x1="411" y1="612" x2="411" y2="614" stroke="#111" stroke-width="1"/>
<line x1="424.3" y1="612" x2="424.3" y2="614" stroke="#111" stroke-width="1"/>
<rect x="406" y="614" width="26" height="18" fill="#f0f0f0" stroke="#444" stroke-width="0.9"/>
<rect x="423" y="614.5" width="8" height="17" fill="#fafafa" stroke="#888" stroke-width="0.6"/>
<rect x="410" y="620" width="3.8" height="9" fill="#fff" stroke="#333" stroke-width="0.7"/>
<rect x="415" y="620" width="3.8" height="9" fill="#fff" stroke="#333" stroke-width="0.7"/>
<path d="M411.9,620 L411.9,617 L416.9,617 L416.9,620" fill="none" stroke="#333" stroke-width="0.6"/>
<text x="425" y="619.5" font-size="3.8" text-anchor="start" fill="#222" >31</text>
<rect x="406" y="637.1" width="26" height="10.3" fill="#e4e4e4" stroke="#555" stroke-width="0.8"/>
<line x1="412" y1="629" x2="412" y2="660" stroke="#222" stroke-width="0.7"/>
<line x1="417" y1="629" x2="417" y2="655" stroke="#222" stroke-width="0.7"/>
<path d="M417,632 L417,643 Q420,650 424,643 L424,632" fill="none" stroke="#222" stroke-width="0.7"/>
<rect x="406.5" y="654.3" width="26" height="11.2" fill="#fff" stroke="#333" stroke-width="1"/>
<line x1="406.5" y1="665.5" x2="417.7" y2="654.3" stroke="#333" stroke-width="0.9"/>
<line x1="411.5" y1="665.5" x2="422.7" y2="654.3" stroke="#333" stroke-width="0.9"/>
<line x1="416.5" y1="665.5" x2="427.7" y2="654.3" stroke="#333" stroke-width="0.9"/>
<line x1="421.5" y1="665.5" x2="432.5" y2="654.5" stroke="#333" stroke-width="0.9"/>
<line x1="426.5" y1="665.5" x2="432.5" y2="659.5" stroke="#333" stroke-width="0.9"/>
<line x1="431.5" y1="665.5" x2="432.5" y2="664.5" stroke="#333" stroke-width="0.9"/>
<path d="M412,655 Q414,664 417,656" fill="none" stroke="#222" stroke-width="0.8"/>
<line x1="359.8" y1="474.5" x2="373.5" y2="474.5" stroke="#888" stroke-width="0.6"/>
<line x1="359.8" y1="484.5" x2="373.5" y2="484.5" stroke="#888" stroke-width="0.6"/>
<line x1="359.8" y1="474" x2="359.8" y2="481" stroke="#111" stroke-width="2.2"/>
<line x1="357.8" y1="481" x2="361.8" y2="485" stroke="#222" stroke-width="0.7"/>
<line x1="361.8" y1="481" x2="357.8" y2="485" stroke="#222" stroke-width="0.7"/>
<line x1="373.5" y1="474" x2="373.5" y2="481" stroke="#111" stroke-width="2.2"/>
<line x1="371.5" y1="481" x2="375.5" y2="485" stroke="#222" stroke-width="0.7"/>
<line x1="375.5" y1="481" x2="371.5" y2="485" stroke="#222" stroke-width="0.7"/>
<line x1="410.8" y1="474.5" x2="425" y2="474.5" stroke="#888" stroke-width="0.6"/>
<line x1="410.8" y1="484.5" x2="425" y2="484.5" stroke="#888" stroke-width="0.6"/>
<line x1="410.8" y1="474" x2="410.8" y2="481" stroke="#111" stroke-width="2.2"/>
<line x1="408.8" y1="481" x2="412.8" y2="485" stroke="#222" stroke-width="0.7"/>
<line x1="412.8" y1="481" x2="408.8" y2="485" stroke="#222" stroke-width="0.7"/>
<line x1="425" y1="474" x2="425" y2="481" stroke="#111" stroke-width="2.2"/>
<line x1="423" y1="481" x2="427" y2="485" stroke="#222" stroke-width="0.7"/>
<line x1="427" y1="481" x2="423" y2="485" stroke="#222" stroke-width="0.7"/>
<line x1="846" y1="526.5" x2="986" y2="526.5" stroke="#888" stroke-width="0.7" stroke-dasharray="1.5 1"/>
<circle cx="850.3" cy="528" r="1.2" fill="#fff" stroke="#222" stroke-width="0.6"/>
<line x1="850.3" y1="529" x2="850.3" y2="537" stroke="#111" stroke-width="1.2"/>
<circle cx="856.7" cy="528" r="1.2" fill="#fff" stroke="#222" stroke-width="0.6"/>
<line x1="856.7" y1="529" x2="856.7" y2="537" stroke="#111" stroke-width="1.2"/>
<circle cx="876.1" cy="528" r="1.2" fill="#fff" stroke="#222" stroke-width="0.6"/>
<line x1="876.1" y1="529" x2="876.1" y2="537" stroke="#111" stroke-width="1.2"/>
<circle cx="895.3" cy="528" r="1.2" fill="#fff" stroke="#222" stroke-width="0.6"/>
<line x1="895.3" y1="529" x2="895.3" y2="537" stroke="#111" stroke-width="1.2"/>
<circle cx="909" cy="528" r="1.2" fill="#fff" stroke="#222" stroke-width="0.6"/>
<line x1="909" y1="529" x2="909" y2="537" stroke="#111" stroke-width="1.2"/>
<circle cx="922.4" cy="528" r="1.2" fill="#fff" stroke="#222" stroke-width="0.6"/>
<line x1="922.4" y1="529" x2="922.4" y2="537" stroke="#111" stroke-width="1.2"/>
<circle cx="941.3" cy="528" r="1.2" fill="#fff" stroke="#222" stroke-width="0.6"/>
<line x1="941.3" y1="529" x2="941.3" y2="537" stroke="#111" stroke-width="1.2"/>
<circle cx="960.3" cy="528" r="1.2" fill="#fff" stroke="#222" stroke-width="0.6"/>
<line x1="960.3" y1="529" x2="960.3" y2="537" stroke="#111" stroke-width="1.2"/>
<circle cx="966.6" cy="528" r="1.2" fill="#fff" stroke="#222" stroke-width="0.6"/>
<line x1="966.6" y1="529" x2="966.6" y2="537" stroke="#111" stroke-width="1.2"/>
<rect x="833.5" y="535.3" width="153.5" height="126.2" fill="#e2e2e2" stroke="#666" stroke-width="1.1"/>
<path d="M837.2,541 L837.2,651.3 L881,651.3" fill="none" stroke="#3a3a3a" stroke-width="0.85" stroke-dasharray="1.6 0.6"/>
<path d="M843.6,541 L843.6,640 L894,640" fill="none" stroke="#3a3a3a" stroke-width="0.85" stroke-dasharray="1.6 0.6"/>
<path d="M849.9,541 L849.9,632.4 L894,632.4" fill="none" stroke="#3a3a3a" stroke-width="0.85" stroke-dasharray="1.6 0.6"/>
<path d="M856,541 L856,629 L894,629" fill="none" stroke="#3a3a3a" stroke-width="0.85" stroke-dasharray="1.6 0.6"/>
<path d="M862.6,541 L862.6,619.1 L881,619.1" fill="none" stroke="#3a3a3a" stroke-width="0.85" stroke-dasharray="1.6 0.6"/>
<path d="M869.2,541 L869.2,601.7 L879,601.7" fill="none" stroke="#3a3a3a" stroke-width="0.85" stroke-dasharray="1.6 0.6"/>
<path d="M875.5,541 L875.5,580.8 L894,580.8" fill="none" stroke="#3a3a3a" stroke-width="0.85" stroke-dasharray="1.6 0.6"/>
<path d="M980,541 L980,651.4 L935,651.4" fill="none" stroke="#3a3a3a" stroke-width="0.85" stroke-dasharray="1.6 0.6"/>
<path d="M972.4,541 L972.4,640 L932,640" fill="none" stroke="#3a3a3a" stroke-width="0.85" stroke-dasharray="1.6 0.6"/>
<path d="M966.7,541 L966.7,632.5 L923,632.5" fill="none" stroke="#3a3a3a" stroke-width="0.85" stroke-dasharray="1.6 0.6"/>
<path d="M961,541 L961,628.7 L923,628.7" fill="none" stroke="#3a3a3a" stroke-width="0.85" stroke-dasharray="1.6 0.6"/>
<path d="M954.3,541 L954.3,619.2 L937,619.2" fill="none" stroke="#3a3a3a" stroke-width="0.85" stroke-dasharray="1.6 0.6"/>
<path d="M947.7,541 L947.7,601.7 L936,601.7" fill="none" stroke="#3a3a3a" stroke-width="0.85" stroke-dasharray="1.6 0.6"/>
<path d="M942,541 L942,580.3 L923,580.3" fill="none" stroke="#3a3a3a" stroke-width="0.85" stroke-dasharray="1.6 0.6"/>
<path d="M890.7,543 L890.7,566" fill="none" stroke="#3a3a3a" stroke-width="0.85" stroke-dasharray="1.6 0.6"/>
<path d="M928.7,543 L928.7,566" fill="none" stroke="#3a3a3a" stroke-width="0.85" stroke-dasharray="1.6 0.6"/>
<path d="M896,541 L896,552" fill="none" stroke="#3a3a3a" stroke-width="0.85" stroke-dasharray="1.6 0.6"/>
<path d="M922,541 L922,552" fill="none" stroke="#3a3a3a" stroke-width="0.85" stroke-dasharray="1.6 0.6"/>
<path d="M903,541 L903,549 L912,549 L912,541" fill="none" stroke="#3a3a3a" stroke-width="0.85" stroke-dasharray="1.6 0.6"/>
<text x="902" y="550.5" font-size="5.6" text-anchor="start" fill="#222" stroke="#222" stroke-width="0.15">COM</text>
<text x="892" y="563.5" font-size="5.4" text-anchor="start" fill="#222" stroke="#222" stroke-width="0.15">GE/YE</text>
<path d="M897.5,569 Q908.5,564 919.5,569 L923.6,590 L923.6,640 Q916,646 908.5,645.5 Q901,646 893.6,640 L893.6,590 Z" fill="#f2f2f2" stroke="#222" stroke-width="1.1"/>
<path d="M896,588 Q908.5,580 921,588 L918.5,598 Q908.5,594 898.5,598 Z" fill="#f8f8f8" stroke="#222" stroke-width="1"/>
<path d="M897.8,632.5 Q908.5,635 919.7,632.5 L919.7,640 Q908.5,642 897.8,640 Z" fill="none" stroke="#222" stroke-width="1"/>
<path d="M898.5,570 L895.5,588" fill="none" stroke="#222" stroke-width="0.8"/>
<path d="M918.5,570 L921.5,588" fill="none" stroke="#222" stroke-width="0.8"/>
<line x1="896" y1="600" x2="896" y2="627" stroke="#222" stroke-width="1.3"/>
<line x1="921.4" y1="600" x2="921.4" y2="627" stroke="#222" stroke-width="1.3"/>
<path d="M895,628 L908.8,614 L922,628" fill="none" stroke="#222" stroke-width="0.8"/>
<path d="M896,628 L921,628" fill="none" stroke="#222" stroke-width="0.6"/>
<g transform="translate(908.5,610) scale(0.75)"><path d="M-4,-4 l4,2 l3,-3 l-1,5 l3,3 l-5,0 l-2,3 l-1,-4 l-4,-1 l3,-2 Z" fill="none" stroke="#222" stroke-width="1.2"/><circle cx="0" cy="0" r="1.6" fill="#333"/></g>
<path d="M884.5,590.5 L887,592 L882,610 L878.4,609 Z" fill="#f4f4f4" stroke="#222" stroke-width="1"/>
<path d="M887.5,612.4 L889.4,614 L883,626.7 L880,625.5 Z" fill="#f4f4f4" stroke="#222" stroke-width="1"/>
<path d="M933,590.5 L930.5,592 L935.5,610 L939,609 Z" fill="#f4f4f4" stroke="#222" stroke-width="1"/>
<path d="M930,612.4 L928,614 L934.5,626.7 L937.5,625.5 Z" fill="#f4f4f4" stroke="#222" stroke-width="1"/>
<line x1="895.5" y1="555" x2="902.5" y2="555" stroke="#222" stroke-width="0.8" transform="rotate(0 899 555)"/>
<line x1="895.5" y1="555" x2="902.5" y2="555" stroke="#222" stroke-width="0.8" transform="rotate(45 899 555)"/>
<line x1="895.5" y1="555" x2="902.5" y2="555" stroke="#222" stroke-width="0.8" transform="rotate(90 899 555)"/>
<line x1="895.5" y1="555" x2="902.5" y2="555" stroke="#222" stroke-width="0.8" transform="rotate(135 899 555)"/>
<line x1="915.4" y1="555" x2="922.4" y2="555" stroke="#222" stroke-width="0.8" transform="rotate(0 918.9 555)"/>
<line x1="915.4" y1="555" x2="922.4" y2="555" stroke="#222" stroke-width="0.8" transform="rotate(45 918.9 555)"/>
<line x1="915.4" y1="555" x2="922.4" y2="555" stroke="#222" stroke-width="0.8" transform="rotate(90 918.9 555)"/>
<line x1="915.4" y1="555" x2="922.4" y2="555" stroke="#222" stroke-width="0.8" transform="rotate(135 918.9 555)"/>
<g transform="translate(886.9,570.3) scale(1,1)"><path d="M-4,0 Q-1,-3.5 2,0 Q-1,3.5 -4,0 Z" fill="#fff" stroke="#222" stroke-width="0.9"/><circle cx="3.5" cy="0" r="2" fill="#444"/><path d="M-3,-5 L-2,-3 M0,-5.5 L0,-3.5 M3,-5 L2,-3" stroke="#222" stroke-width="0.7"/></g>
<g transform="translate(929.8,570.3) scale(-1,1)"><path d="M-4,0 Q-1,-3.5 2,0 Q-1,3.5 -4,0 Z" fill="#fff" stroke="#222" stroke-width="0.9"/><circle cx="3.5" cy="0" r="2" fill="#444"/><path d="M-3,-5 L-2,-3 M0,-5.5 L0,-3.5 M3,-5 L2,-3" stroke="#222" stroke-width="0.7"/></g>
<g transform="translate(886.9,651.5) scale(1,1)"><path d="M-4,0 Q-1,-3 2,0 Q-1,3 -4,0 Z" fill="#fff" stroke="#222" stroke-width="0.9"/><circle cx="3" cy="0" r="1.7" fill="#444"/><path d="M-2,3 L-2,6 M0,3.5 L0,6.5 M2,3 L2,6" stroke="#222" stroke-width="0.7"/></g>
<g transform="translate(929,651.5) scale(-1,1)"><path d="M-4,0 Q-1,-3 2,0 Q-1,3 -4,0 Z" fill="#fff" stroke="#222" stroke-width="0.9"/><circle cx="3" cy="0" r="1.7" fill="#444"/><path d="M-2,3 L-2,6 M0,3.5 L0,6.5 M2,3 L2,6" stroke="#222" stroke-width="0.7"/></g>
<path d="M929,637 L932.5,640 L929,643 Z" fill="none" stroke="#222" stroke-width="0.8"/>
<text x="838" y="541" font-size="3.6" text-anchor="middle" fill="#333" >9</text>
<text x="843" y="541" font-size="3.6" text-anchor="middle" fill="#333" >1</text>
<text x="849.5" y="541" font-size="3.6" text-anchor="middle" fill="#333" >20</text>
<text x="856" y="541" font-size="3.6" text-anchor="middle" fill="#333" >L</text>
<text x="864" y="541" font-size="3.6" text-anchor="middle" fill="#333" >7</text>
<text x="878" y="541" font-size="3.6" text-anchor="middle" fill="#333" >2</text>
<text x="891" y="542" font-size="3.6" text-anchor="middle" fill="#333" >4</text>
<text x="897" y="541" font-size="3.6" text-anchor="middle" fill="#333" >1</text>
<text x="909" y="541" font-size="3.6" text-anchor="middle" fill="#333" >L</text>
<text x="922" y="541" font-size="3.6" text-anchor="middle" fill="#333" >9</text>
<text x="928.7" y="541" font-size="3.6" text-anchor="middle" fill="#333" >L</text>
<text x="942" y="541" font-size="3.6" text-anchor="middle" fill="#333" >5</text>
<text x="954.3" y="541" font-size="3.6" text-anchor="middle" fill="#333" >15</text>
<text x="961" y="541" font-size="3.6" text-anchor="middle" fill="#333" >L</text>
<text x="966.7" y="541" font-size="3.6" text-anchor="middle" fill="#333" >10</text>
<text x="980" y="541" font-size="3.6" text-anchor="middle" fill="#333" >10</text>
<text x="845" y="545" font-size="3.6" text-anchor="middle" fill="#333" >18</text>
<text x="857" y="545" font-size="3.6" text-anchor="middle" fill="#333" >16</text>
<text x="871" y="545" font-size="3.6" text-anchor="middle" fill="#333" >4</text>
<text x="909" y="546" font-size="3.6" text-anchor="middle" fill="#333" >⊙</text>
<text x="928.7" y="546" font-size="3.6" text-anchor="middle" fill="#333" >10</text>
<text x="947.7" y="545" font-size="3.6" text-anchor="middle" fill="#333" >18</text>
<text x="961" y="545" font-size="3.6" text-anchor="middle" fill="#333" >4</text>
<text x="972.4" y="545" font-size="3.6" text-anchor="middle" fill="#333" >18</text>
<rect x="36.9" y="1.8" width="8.3" height="6.4" fill="#fff"/>
<text x="41" y="7.088" font-size="5.8" text-anchor="middle" fill="#1c1c1c" stroke="#1c1c1c" stroke-width="0.18">22</text>
<rect x="33.6" y="16.3" width="20.8" height="6.4" fill="#fff"/>
<text x="44" y="21.588" font-size="5.8" text-anchor="middle" fill="#1c1c1c" stroke="#1c1c1c" stroke-width="0.18">C-1122</text>
<rect x="309.7" y="8.3" width="17.7" height="6.4" fill="#fff"/>
<text x="318.5" y="13.588000000000001" font-size="5.8" text-anchor="middle" fill="#1c1c1c" stroke="#1c1c1c" stroke-width="0.18">54-32</text>
<rect x="309.2" y="22.1" width="17.7" height="6.4" fill="#fff"/>
<text x="318" y="27.388" font-size="5.8" text-anchor="middle" fill="#1c1c1c" stroke="#1c1c1c" stroke-width="0.18">54-32</text>
<rect x="522.6" y="1.8" width="20.8" height="6.4" fill="#fff"/>
<text x="533" y="7.088" font-size="5.8" text-anchor="middle" fill="#1c1c1c" stroke="#1c1c1c" stroke-width="0.18">S-1049</text>
<rect x="534.2" y="31.8" width="17.7" height="6.4" fill="#fff"/>
<text x="543" y="37.088" font-size="5.8" text-anchor="middle" fill="#1c1c1c" stroke="#1c1c1c" stroke-width="0.18">54-32</text>
<rect x="658.4" y="37.8" width="5.1" height="6.4" fill="#fff"/>
<text x="661" y="43.088" font-size="5.8" text-anchor="middle" fill="#1c1c1c" stroke="#1c1c1c" stroke-width="0.18">9</text>
<rect x="639.6" y="49.8" width="20.8" height="6.4" fill="#fff"/>
<text x="650" y="55.088" font-size="5.8" text-anchor="middle" fill="#1c1c1c" stroke="#1c1c1c" stroke-width="0.18">31B-71</text>
<rect x="844.6" y="29.8" width="20.8" height="6.4" fill="#fff"/>
<text x="855" y="35.088" font-size="5.8" text-anchor="middle" fill="#1c1c1c" stroke="#1c1c1c" stroke-width="0.18">S-1075</text>
<rect x="38.4" y="78.8" width="5.1" height="6.4" fill="#fff"/>
<text x="41" y="84.088" font-size="5.8" text-anchor="middle" fill="#1c1c1c" stroke="#1c1c1c" stroke-width="0.18">7</text>
<rect x="53.6" y="76.8" width="20.8" height="6.4" fill="#fff"/>
<text x="64" y="82.088" font-size="5.8" text-anchor="middle" fill="#1c1c1c" stroke="#1c1c1c" stroke-width="0.18">C-1107</text>
<rect x="273.3" y="84.8" width="11.4" height="6.4" fill="#fff"/>
<text x="279" y="90.088" font-size="5.8" text-anchor="middle" fill="#1c1c1c" stroke="#1c1c1c" stroke-width="0.18">58K</text>
<rect x="374.6" y="76.8" width="20.8" height="6.4" fill="#fff"/>
<text x="385" y="82.088" font-size="5.8" text-anchor="middle" fill="#1c1c1c" stroke="#1c1c1c" stroke-width="0.18">S-1056</text>
<rect x="488.7" y="84.8" width="14.5" height="6.4" fill="#fff"/>
<text x="496" y="90.088" font-size="5.8" text-anchor="middle" fill="#1c1c1c" stroke="#1c1c1c" stroke-width="0.18">58-8</text>
<rect x="839.7" y="84.8" width="14.5" height="6.4" fill="#fff"/>
<text x="847" y="90.088" font-size="5.8" text-anchor="middle" fill="#1c1c1c" stroke="#1c1c1c" stroke-width="0.18">58-8</text>
<rect x="50.6" y="117.8" width="20.8" height="6.4" fill="#fff"/>
<text x="61" y="123.088" font-size="5.8" text-anchor="middle" fill="#1c1c1c" stroke="#1c1c1c" stroke-width="0.18">58A-38</text>
<rect x="992.6" y="131.8" width="20.8" height="6.4" fill="#fff"/>
<text x="1003" y="137.088" font-size="5.8" text-anchor="middle" fill="#1c1c1c" stroke="#1c1c1c" stroke-width="0.18">C-1706</text>
<rect x="153.6" y="145.8" width="20.8" height="6.4" fill="#fff"/>
<text x="164" y="151.088" font-size="5.8" text-anchor="middle" fill="#1c1c1c" stroke="#1c1c1c" stroke-width="0.18">S-1021</text>
<rect x="211.6" y="144.8" width="20.8" height="6.4" fill="#fff"/>
<text x="222" y="150.088" font-size="5.8" text-anchor="middle" fill="#1c1c1c" stroke="#1c1c1c" stroke-width="0.18">S-1020</text>
<rect x="189.2" y="151.8" width="17.7" height="6.4" fill="#fff"/>
<text x="198" y="157.088" font-size="5.8" text-anchor="middle" fill="#1c1c1c" stroke="#1c1c1c" stroke-width="0.18">31-29</text>
<rect x="132.2" y="159.8" width="17.7" height="6.4" fill="#fff"/>
<text x="141" y="165.088" font-size="5.8" text-anchor="middle" fill="#1c1c1c" stroke="#1c1c1c" stroke-width="0.18">31-29</text>
<rect x="320.2" y="141.0" width="17.7" height="6.4" fill="#fff"/>
<text x="329" y="146.28799999999998" font-size="5.8" text-anchor="middle" fill="#1c1c1c" stroke="#1c1c1c" stroke-width="0.18">31-29</text>
<rect x="320.2" y="151.8" width="17.7" height="6.4" fill="#fff"/>
<text x="329" y="157.088" font-size="5.8" text-anchor="middle" fill="#1c1c1c" stroke="#1c1c1c" stroke-width="0.18">31-29</text>
<rect x="320.2" y="159.3" width="17.7" height="6.4" fill="#fff"/>
<text x="329" y="164.588" font-size="5.8" text-anchor="middle" fill="#1c1c1c" stroke="#1c1c1c" stroke-width="0.18">31-29</text>
<rect x="271.2" y="169.8" width="17.7" height="6.4" fill="#fff"/>
<text x="280" y="175.088" font-size="5.8" text-anchor="middle" fill="#1c1c1c" stroke="#1c1c1c" stroke-width="0.18">31-63</text>
<rect x="270.2" y="184.8" width="17.7" height="6.4" fill="#fff"/>
<text x="279" y="190.088" font-size="5.8" text-anchor="middle" fill="#1c1c1c" stroke="#1c1c1c" stroke-width="0.18">31-64</text>
<rect x="116.6" y="177.8" width="20.8" height="6.4" fill="#fff"/>
<text x="127" y="183.088" font-size="5.8" text-anchor="middle" fill="#1c1c1c" stroke="#1c1c1c" stroke-width="0.18">C-1006</text>
<rect x="116.6" y="184.8" width="20.8" height="6.4" fill="#fff"/>
<text x="127" y="190.088" font-size="5.8" text-anchor="middle" fill="#1c1c1c" stroke="#1c1c1c" stroke-width="0.18">G-1006</text>
<rect x="977.2" y="192.8" width="14.5" height="6.4" fill="#fff"/>
<text x="984.5" y="198.088" font-size="5.8" text-anchor="middle" fill="#1c1c1c" stroke="#1c1c1c" stroke-width="0.18">58-6</text>
<rect x="791.2" y="179.8" width="17.7" height="6.4" fill="#fff"/>
<text x="800" y="185.088" font-size="5.8" text-anchor="middle" fill="#1c1c1c" stroke="#1c1c1c" stroke-width="0.18">54-32</text>
<rect x="626.6" y="194.3" width="20.8" height="6.4" fill="#fff"/>
<text x="637" y="199.588" font-size="5.8" text-anchor="middle" fill="#1c1c1c" stroke="#1c1c1c" stroke-width="0.18">S-1051</text>
<rect x="586.2" y="202.3" width="17.7" height="6.4" fill="#fff"/>
<text x="595" y="207.588" font-size="5.8" text-anchor="middle" fill="#1c1c1c" stroke="#1c1c1c" stroke-width="0.18">54-33</text>
<rect x="728.2" y="202.3" width="17.7" height="6.4" fill="#fff"/>
<text x="737" y="207.588" font-size="5.8" text-anchor="middle" fill="#1c1c1c" stroke="#1c1c1c" stroke-width="0.18">54-33</text>
<rect x="628.2" y="239.8" width="17.7" height="6.4" fill="#fff"/>
<text x="637" y="245.088" font-size="5.8" text-anchor="middle" fill="#1c1c1c" stroke="#1c1c1c" stroke-width="0.18">54-33</text>
<rect x="570.2" y="227.8" width="17.7" height="6.4" fill="#fff"/>
<text x="579" y="233.088" font-size="5.8" text-anchor="middle" fill="#1c1c1c" stroke="#1c1c1c" stroke-width="0.18">C-904</text>
<rect x="227.2" y="242.3" width="17.7" height="6.4" fill="#fff"/>
<text x="236" y="247.588" font-size="5.8" text-anchor="middle" fill="#1c1c1c" stroke="#1c1c1c" stroke-width="0.18">31-29</text>
<rect x="758.7" y="273.2" width="14.5" height="6.4" fill="#fff"/>
<text x="766" y="278.488" font-size="5.8" text-anchor="middle" fill="#1c1c1c" stroke="#1c1c1c" stroke-width="0.18">9-16</text>
<rect x="767.7" y="279.8" width="14.5" height="6.4" fill="#fff"/>
<text x="775" y="285.088" font-size="5.8" text-anchor="middle" fill="#1c1c1c" stroke="#1c1c1c" stroke-width="0.18">9-15</text>
<rect x="606.6" y="291.8" width="20.8" height="6.4" fill="#fff"/>
<text x="617" y="297.088" font-size="5.8" text-anchor="middle" fill="#1c1c1c" stroke="#1c1c1c" stroke-width="0.18">31B-57</text>
<rect x="991.6" y="279.3" width="20.8" height="6.4" fill="#fff"/>
<text x="1002" y="284.588" font-size="5.8" text-anchor="middle" fill="#1c1c1c" stroke="#1c1c1c" stroke-width="0.18">S-1058</text>
<rect x="932.2" y="315.3" width="17.7" height="6.4" fill="#fff"/>
<text x="941" y="320.588" font-size="5.8" text-anchor="middle" fill="#1c1c1c" stroke="#1c1c1c" stroke-width="0.18">58-16</text>
<rect x="975.7" y="313.8" width="17.7" height="6.4" fill="#fff"/>
<text x="984.5" y="319.088" font-size="5.8" text-anchor="middle" fill="#1c1c1c" stroke="#1c1c1c" stroke-width="0.18">58-16</text>
<rect x="284.6" y="335.8" width="20.8" height="6.4" fill="#fff"/>
<text x="295" y="341.088" font-size="5.8" text-anchor="middle" fill="#1c1c1c" stroke="#1c1c1c" stroke-width="0.18">31B-64</text>
<rect x="691.2" y="339.8" width="17.7" height="6.4" fill="#fff"/>
<text x="700" y="345.088" font-size="5.8" text-anchor="middle" fill="#1c1c1c" stroke="#1c1c1c" stroke-width="0.18">54-16</text>
<rect x="775.5" y="352.2" width="17.7" height="6.4" fill="#fff"/>
<text x="784.3" y="357.488" font-size="5.8" text-anchor="middle" fill="#1c1c1c" stroke="#1c1c1c" stroke-width="0.18">54-32</text>
<rect x="808.1" y="352.2" width="17.7" height="6.4" fill="#fff"/>
<text x="816.9" y="357.488" font-size="5.8" text-anchor="middle" fill="#1c1c1c" stroke="#1c1c1c" stroke-width="0.18">54-32</text>
<rect x="588.0" y="354.8" width="20.8" height="6.4" fill="#fff"/>
<text x="598.4" y="360.088" font-size="5.8" text-anchor="middle" fill="#1c1c1c" stroke="#1c1c1c" stroke-width="0.18">31B-59</text>
<rect x="641.2" y="368.8" width="17.7" height="6.4" fill="#fff"/>
<text x="650" y="374.088" font-size="5.8" text-anchor="middle" fill="#1c1c1c" stroke="#1c1c1c" stroke-width="0.18">56A-3</text>
<rect x="613.9" y="377.8" width="20.8" height="6.4" fill="#fff"/>
<text x="624.3" y="383.088" font-size="5.8" text-anchor="middle" fill="#1c1c1c" stroke="#1c1c1c" stroke-width="0.18">31B-62</text>
<rect x="241.6" y="388.8" width="20.8" height="6.4" fill="#fff"/>
<text x="252" y="394.088" font-size="5.8" text-anchor="middle" fill="#1c1c1c" stroke="#1c1c1c" stroke-width="0.18">S-1022</text>
<rect x="570.2" y="392.8" width="17.7" height="6.4" fill="#fff"/>
<text x="579" y="398.088" font-size="5.8" text-anchor="middle" fill="#1c1c1c" stroke="#1c1c1c" stroke-width="0.18">C-900</text>
<rect x="302.2" y="397.8" width="17.7" height="6.4" fill="#fff"/>
<text x="311" y="403.088" font-size="5.8" text-anchor="middle" fill="#1c1c1c" stroke="#1c1c1c" stroke-width="0.18">31-29</text>
<rect x="269.6" y="404.8" width="20.8" height="6.4" fill="#fff"/>
<text x="280" y="410.088" font-size="5.8" text-anchor="middle" fill="#1c1c1c" stroke="#1c1c1c" stroke-width="0.18">S-1039</text>
<rect x="314.6" y="420.8" width="20.8" height="6.4" fill="#fff"/>
<text x="325" y="426.088" font-size="5.8" text-anchor="middle" fill="#1c1c1c" stroke="#1c1c1c" stroke-width="0.18">S-1023</text>
<rect x="207.6" y="398.8" width="20.8" height="6.4" fill="#fff"/>
<text x="218" y="404.088" font-size="5.8" text-anchor="middle" fill="#1c1c1c" stroke="#1c1c1c" stroke-width="0.18">31B-63</text>
<rect x="841.2" y="438.8" width="17.7" height="6.4" fill="#fff"/>
<text x="850" y="444.088" font-size="5.8" text-anchor="middle" fill="#1c1c1c" stroke="#1c1c1c" stroke-width="0.18">31-29</text>
<rect x="867.2" y="438.8" width="17.7" height="6.4" fill="#fff"/>
<text x="876" y="444.088" font-size="5.8" text-anchor="middle" fill="#1c1c1c" stroke="#1c1c1c" stroke-width="0.18">31-29</text>
<rect x="900.7" y="427.8" width="17.7" height="6.4" fill="#fff"/>
<text x="909.5" y="433.088" font-size="5.8" text-anchor="middle" fill="#1c1c1c" stroke="#1c1c1c" stroke-width="0.18">54-33</text>
<rect x="580.2" y="450.3" width="17.7" height="6.4" fill="#fff"/>
<text x="589" y="455.588" font-size="5.8" text-anchor="middle" fill="#1c1c1c" stroke="#1c1c1c" stroke-width="0.18">31-13</text>
<rect x="378.6" y="478.4" width="20.8" height="6.4" fill="#fff"/>
<text x="389" y="483.68800000000005" font-size="5.8" text-anchor="middle" fill="#1c1c1c" stroke="#1c1c1c" stroke-width="0.18">C-1966</text>
<rect x="430.6" y="478.4" width="20.8" height="6.4" fill="#fff"/>
<text x="441" y="483.68800000000005" font-size="5.8" text-anchor="middle" fill="#1c1c1c" stroke="#1c1c1c" stroke-width="0.18">C-1967</text>
<rect x="196.6" y="486.8" width="20.8" height="6.4" fill="#fff"/>
<text x="207" y="492.088" font-size="5.8" text-anchor="middle" fill="#1c1c1c" stroke="#1c1c1c" stroke-width="0.18">S-1040</text>
<rect x="146.6" y="493.3" width="20.8" height="6.4" fill="#fff"/>
<text x="157" y="498.588" font-size="5.8" text-anchor="middle" fill="#1c1c1c" stroke="#1c1c1c" stroke-width="0.18">31B-71</text>
<rect x="169.2" y="500.3" width="17.7" height="6.4" fill="#fff"/>
<text x="178" y="505.588" font-size="5.8" text-anchor="middle" fill="#1c1c1c" stroke="#1c1c1c" stroke-width="0.18">31-71</text>
<rect x="41.6" y="503.8" width="20.8" height="6.4" fill="#fff"/>
<text x="52" y="509.088" font-size="5.8" text-anchor="middle" fill="#1c1c1c" stroke="#1c1c1c" stroke-width="0.18">31B-52</text>
<rect x="87.6" y="504.8" width="20.8" height="6.4" fill="#fff"/>
<text x="98" y="510.088" font-size="5.8" text-anchor="middle" fill="#1c1c1c" stroke="#1c1c1c" stroke-width="0.18">31B-54</text>
<rect x="795.6" y="497.9" width="20.8" height="6.4" fill="#fff"/>
<text x="806" y="503.18800000000005" font-size="5.8" text-anchor="middle" fill="#1c1c1c" stroke="#1c1c1c" stroke-width="0.18">31B-31</text>
<rect x="530.6" y="516.8" width="20.8" height="6.4" fill="#fff"/>
<text x="541" y="522.088" font-size="5.8" text-anchor="middle" fill="#1c1c1c" stroke="#1c1c1c" stroke-width="0.18">S-1015</text>
<rect x="576.7" y="516.5" width="14.5" height="6.4" fill="#fff"/>
<text x="584" y="521.788" font-size="5.8" text-anchor="middle" fill="#1c1c1c" stroke="#1c1c1c" stroke-width="0.18">31-1</text>
<rect x="601.6" y="509.8" width="20.8" height="6.4" fill="#fff"/>
<text x="612" y="515.088" font-size="5.8" text-anchor="middle" fill="#1c1c1c" stroke="#1c1c1c" stroke-width="0.18">S-1018</text>
<rect x="676.2" y="516.5" width="17.7" height="6.4" fill="#fff"/>
<text x="685" y="521.788" font-size="5.8" text-anchor="middle" fill="#1c1c1c" stroke="#1c1c1c" stroke-width="0.18">31-31</text>
<rect x="824.2" y="525.8" width="17.7" height="6.4" fill="#fff"/>
<text x="833" y="531.088" font-size="5.8" text-anchor="middle" fill="#1c1c1c" stroke="#1c1c1c" stroke-width="0.18">C-905</text>
<rect x="111.2" y="527.8" width="17.7" height="6.4" fill="#fff"/>
<text x="120" y="533.088" font-size="5.8" text-anchor="middle" fill="#1c1c1c" stroke="#1c1c1c" stroke-width="0.18">31-54</text>
<rect x="63.2" y="539.8" width="17.7" height="6.4" fill="#fff"/>
<text x="72" y="545.088" font-size="5.8" text-anchor="middle" fill="#1c1c1c" stroke="#1c1c1c" stroke-width="0.18">31-52</text>
<rect x="365.2" y="565.5" width="17.7" height="6.4" fill="#fff"/>
<text x="374" y="570.788" font-size="5.8" text-anchor="middle" fill="#1c1c1c" stroke="#1c1c1c" stroke-width="0.18">31-63</text>
<rect x="417.2" y="573.8" width="17.7" height="6.4" fill="#fff"/>
<text x="426" y="579.088" font-size="5.8" text-anchor="middle" fill="#1c1c1c" stroke="#1c1c1c" stroke-width="0.18">31-64</text>
<rect x="350.6" y="581.4" width="20.8" height="6.4" fill="#fff"/>
<text x="361" y="586.688" font-size="5.8" text-anchor="middle" fill="#1c1c1c" stroke="#1c1c1c" stroke-width="0.18">31B-63</text>
<rect x="550.2" y="582.8" width="14.5" height="6.4" fill="#fff"/>
<text x="557.5" y="588.088" font-size="5.8" text-anchor="middle" fill="#1c1c1c" stroke="#1c1c1c" stroke-width="0.18">31-1</text>
<rect x="401.1" y="588.5" width="20.8" height="6.4" fill="#fff"/>
<text x="411.5" y="593.788" font-size="5.8" text-anchor="middle" fill="#1c1c1c" stroke="#1c1c1c" stroke-width="0.18">31B-64</text>
<rect x="680.6" y="589.8" width="20.8" height="6.4" fill="#fff"/>
<text x="691" y="595.088" font-size="5.8" text-anchor="middle" fill="#1c1c1c" stroke="#1c1c1c" stroke-width="0.18">C-1154</text>
<rect x="765.6" y="589.8" width="20.8" height="6.4" fill="#fff"/>
<text x="776" y="595.088" font-size="5.8" text-anchor="middle" fill="#1c1c1c" stroke="#1c1c1c" stroke-width="0.18">C-1154</text>
<rect x="27.1" y="596.4" width="20.8" height="6.4" fill="#fff"/>
<text x="37.5" y="601.688" font-size="5.8" text-anchor="middle" fill="#1c1c1c" stroke="#1c1c1c" stroke-width="0.18">C-1315</text>
<rect x="125.1" y="599.8" width="20.8" height="6.4" fill="#fff"/>
<text x="135.5" y="605.088" font-size="5.8" text-anchor="middle" fill="#1c1c1c" stroke="#1c1c1c" stroke-width="0.18">C-1317</text>
<rect x="181.6" y="599.8" width="20.8" height="6.4" fill="#fff"/>
<text x="192" y="605.088" font-size="5.8" text-anchor="middle" fill="#1c1c1c" stroke="#1c1c1c" stroke-width="0.18">C-1319</text>
<rect x="248.1" y="630.5" width="20.8" height="6.4" fill="#fff"/>
<text x="258.5" y="635.788" font-size="5.8" text-anchor="middle" fill="#1c1c1c" stroke="#1c1c1c" stroke-width="0.18">C-1313</text>
<rect x="318.6" y="630.8" width="20.8" height="6.4" fill="#fff"/>
<text x="329" y="636.088" font-size="5.8" text-anchor="middle" fill="#1c1c1c" stroke="#1c1c1c" stroke-width="0.18">C-1314</text>
<rect x="382.6" y="630.8" width="20.8" height="6.4" fill="#fff"/>
<text x="393" y="636.088" font-size="5.8" text-anchor="middle" fill="#1c1c1c" stroke="#1c1c1c" stroke-width="0.18">C-1337</text>
<rect x="434.6" y="630.8" width="20.8" height="6.4" fill="#fff"/>
<text x="445" y="636.088" font-size="5.8" text-anchor="middle" fill="#1c1c1c" stroke="#1c1c1c" stroke-width="0.18">C-1338</text>
<rect x="532.6" y="628.3" width="20.8" height="6.4" fill="#fff"/>
<text x="543" y="633.588" font-size="5.8" text-anchor="middle" fill="#1c1c1c" stroke="#1c1c1c" stroke-width="0.18">C-1005</text>
<rect x="532.6" y="635.3" width="20.8" height="6.4" fill="#fff"/>
<text x="543" y="640.588" font-size="5.8" text-anchor="middle" fill="#1c1c1c" stroke="#1c1c1c" stroke-width="0.18">C-1005</text>
<rect x="481.9" y="259.8" width="20.8" height="6.4" fill="#fff"/>
<text x="492.3" y="265.088" font-size="5.8" text-anchor="middle" fill="#1c1c1c" stroke="#1c1c1c" stroke-width="0.18">31B-52</text>
<rect x="481.1" y="266.8" width="20.8" height="6.4" fill="#fff"/>
<text x="491.5" y="272.088" font-size="5.8" text-anchor="middle" fill="#1c1c1c" stroke="#1c1c1c" stroke-width="0.18">31B-54</text>
<rect x="481.2" y="273.3" width="17.7" height="6.4" fill="#fff"/>
<text x="490" y="278.588" font-size="5.8" text-anchor="middle" fill="#1c1c1c" stroke="#1c1c1c" stroke-width="0.18">31-71</text>
<rect x="483.3" y="279.8" width="20.8" height="6.4" fill="#fff"/>
<text x="493.7" y="285.088" font-size="5.8" text-anchor="middle" fill="#1c1c1c" stroke="#1c1c1c" stroke-width="0.18">31B-71</text>
<rect x="477.6" y="286.3" width="20.8" height="6.4" fill="#fff"/>
<text x="488" y="291.588" font-size="5.8" text-anchor="middle" fill="#1c1c1c" stroke="#1c1c1c" stroke-width="0.18">31B-63</text>
<rect x="477.6" y="292.3" width="20.8" height="6.4" fill="#fff"/>
<text x="488" y="297.588" font-size="5.8" text-anchor="middle" fill="#1c1c1c" stroke="#1c1c1c" stroke-width="0.18">31B-64</text>
<rect x="477.6" y="298.6" width="20.8" height="6.4" fill="#fff"/>
<text x="488" y="303.88800000000003" font-size="5.8" text-anchor="middle" fill="#1c1c1c" stroke="#1c1c1c" stroke-width="0.18">31B-63</text>
<rect x="477.6" y="305.3" width="20.8" height="6.4" fill="#fff"/>
<text x="488" y="310.588" font-size="5.8" text-anchor="middle" fill="#1c1c1c" stroke="#1c1c1c" stroke-width="0.18">31B-64</text>
<circle cx="238" cy="155" r="6" fill="#1a1010"/>
<circle cx="157.8" cy="155" r="1.8" fill="#1a1010"/>
<circle cx="395" cy="88" r="3.4" fill="#1a1010"/>
<circle cx="637" cy="205.5" r="2" fill="#1a1010"/>
<circle cx="237" cy="384" r="3.5" fill="#1a1010"/>
<circle cx="295" cy="408" r="3.6" fill="#1a1010"/>
<circle cx="307" cy="423.5" r="3.6" fill="#1a1010"/>
<circle cx="223" cy="490" r="3.6" fill="#1a1010"/>
<circle cx="622" cy="519.7" r="1.8" fill="#1a1010"/>
<circle cx="557" cy="519.7" r="1.5" fill="#1a1010"/>
<circle cx="541" cy="12" r="1.8" fill="#1a1010"/>
<circle cx="984.5" cy="282.5" r="1.8" fill="#1a1010"/>
<text x="36" y="675.0" font-size="7.7" text-anchor="start" fill="#2a2a2a" stroke="#2a2a2a" stroke-width="0.2">Датчик</text>
<text x="36" y="683.7" font-size="7.7" text-anchor="start" fill="#2a2a2a" stroke="#2a2a2a" stroke-width="0.2">уровня</text>
<text x="36" y="692.4" font-size="7.7" text-anchor="start" fill="#2a2a2a" stroke="#2a2a2a" stroke-width="0.2">охлаждающей</text>
<text x="36" y="701.1" font-size="7.7" text-anchor="start" fill="#2a2a2a" stroke="#2a2a2a" stroke-width="0.2">жидкости</text>
<text x="95.5" y="675.0" font-size="7.75" text-anchor="start" fill="#2a2a2a" stroke="#2a2a2a" stroke-width="0.2">Датчик</text>
<text x="95.5" y="683.7" font-size="7.75" text-anchor="start" fill="#2a2a2a" stroke="#2a2a2a" stroke-width="0.2">уровня</text>
<text x="95.5" y="692.4" font-size="7.75" text-anchor="start" fill="#2a2a2a" stroke="#2a2a2a" stroke-width="0.2">жидкости в</text>
<text x="95.5" y="701.1" font-size="7.75" text-anchor="start" fill="#2a2a2a" stroke="#2a2a2a" stroke-width="0.2">омывателе</text>
<text x="151" y="654.0" font-size="7.8" text-anchor="start" fill="#2a2a2a" stroke="#2a2a2a" stroke-width="0.2">Датчик</text>
<text x="151" y="662.7" font-size="7.8" text-anchor="start" fill="#2a2a2a" stroke="#2a2a2a" stroke-width="0.2">гололёда</text>
<text x="232.4" y="677.0" font-size="7.75" text-anchor="start" fill="#2a2a2a" stroke="#2a2a2a" stroke-width="0.2">Датчики предельного износа тормозных колодок</text>
<line x1="220" y1="679.3" x2="433.4" y2="679.3" stroke="#444" stroke-width="0.9"/>
<text x="217" y="691.0" font-size="7.7" text-anchor="start" fill="#2a2a2a" stroke="#2a2a2a" stroke-width="0.2">Левое</text>
<text x="217" y="699.4" font-size="7.7" text-anchor="start" fill="#2a2a2a" stroke="#2a2a2a" stroke-width="0.2">переднее</text>
<text x="217" y="707.8" font-size="7.7" text-anchor="start" fill="#2a2a2a" stroke="#2a2a2a" stroke-width="0.2">колесо</text>
<text x="290.5" y="691.0" font-size="7.7" text-anchor="start" fill="#2a2a2a" stroke="#2a2a2a" stroke-width="0.2">Правое</text>
<text x="290.5" y="699.4" font-size="7.7" text-anchor="start" fill="#2a2a2a" stroke="#2a2a2a" stroke-width="0.2">переднее</text>
<text x="290.5" y="707.8" font-size="7.7" text-anchor="start" fill="#2a2a2a" stroke="#2a2a2a" stroke-width="0.2">колесо</text>
<text x="358" y="691.0" font-size="7.7" text-anchor="start" fill="#2a2a2a" stroke="#2a2a2a" stroke-width="0.2">Левое</text>
<text x="358" y="699.4" font-size="7.7" text-anchor="start" fill="#2a2a2a" stroke="#2a2a2a" stroke-width="0.2">заднее</text>
<text x="358" y="707.8" font-size="7.7" text-anchor="start" fill="#2a2a2a" stroke="#2a2a2a" stroke-width="0.2">колесо</text>
<text x="408" y="691.0" font-size="7.7" text-anchor="start" fill="#2a2a2a" stroke="#2a2a2a" stroke-width="0.2">Правое</text>
<text x="408" y="699.4" font-size="7.7" text-anchor="start" fill="#2a2a2a" stroke="#2a2a2a" stroke-width="0.2">заднее</text>
<text x="408" y="707.8" font-size="7.7" text-anchor="start" fill="#2a2a2a" stroke="#2a2a2a" stroke-width="0.2">колесо</text>
<text x="505.4" y="355.3" font-size="10" text-anchor="start" fill="#222" stroke="#222" stroke-width="0.3">R18</text>
<text x="505.5" y="365.5" font-size="7.8" text-anchor="start" fill="#2a2a2a" stroke="#2a2a2a" stroke-width="0.2">Блок</text>
<text x="505.5" y="373.8" font-size="7.8" text-anchor="start" fill="#2a2a2a" stroke="#2a2a2a" stroke-width="0.2">дополнительной</text>
<text x="505.5" y="382.1" font-size="7.8" text-anchor="start" fill="#2a2a2a" stroke="#2a2a2a" stroke-width="0.2">контрольной</text>
<text x="505.5" y="390.4" font-size="7.8" text-anchor="start" fill="#2a2a2a" stroke="#2a2a2a" stroke-width="0.2">системы AWS</text>
<text x="557" y="438.0" font-size="7.8" text-anchor="start" fill="#2a2a2a" stroke="#2a2a2a" stroke-width="0.2">Комбинация</text>
<text x="557" y="446.2" font-size="7.8" text-anchor="start" fill="#2a2a2a" stroke="#2a2a2a" stroke-width="0.2">приборов</text>
<text x="617" y="436.0" font-size="7.85" text-anchor="start" fill="#2a2a2a" stroke="#2a2a2a" stroke-width="0.2">Контрольные лампы</text>
<line x1="617" y1="438" x2="692.5" y2="438" stroke="#555" stroke-width="0.8"/>
<text x="617" y="444.0" font-size="6.4" text-anchor="start" fill="#2a2a2a" stroke="#2a2a2a" stroke-width="0.2">Осве-</text>
<text x="617" y="451.4" font-size="6.4" text-anchor="start" fill="#2a2a2a" stroke="#2a2a2a" stroke-width="0.2">щения</text>
<text x="655" y="444.0" font-size="6.85" text-anchor="start" fill="#2a2a2a" stroke="#2a2a2a" stroke-width="0.2">Ремней бе-</text>
<text x="655" y="451.4" font-size="6.85" text-anchor="start" fill="#2a2a2a" stroke="#2a2a2a" stroke-width="0.2">зопасности</text>
<text x="644" y="650.0" font-size="7.7" text-anchor="start" fill="#2a2a2a" stroke="#2a2a2a" stroke-width="0.2">Реле ремней безопасности</text>
<line x1="644" y1="652.5" x2="742" y2="652.5" stroke="#555" stroke-width="0.9"/>
<text x="617.5" y="662.0" font-size="7.7" text-anchor="start" fill="#2a2a2a" stroke="#2a2a2a" stroke-width="0.2">Обычный</text>
<text x="617.5" y="670.4" font-size="7.7" text-anchor="start" fill="#2a2a2a" stroke="#2a2a2a" stroke-width="0.2">вариант</text>
<text x="710.5" y="662.0" font-size="7.7" text-anchor="start" fill="#2a2a2a" stroke="#2a2a2a" stroke-width="0.2">Улучшеный</text>
<text x="710.5" y="670.4" font-size="7.7" text-anchor="start" fill="#2a2a2a" stroke="#2a2a2a" stroke-width="0.2">вариант</text>
<text x="874.3" y="671.0" font-size="7.75" text-anchor="start" fill="#2a2a2a" stroke="#2a2a2a" stroke-width="0.2">Графический дисплей</text>
<text x="903" y="147" font-size="7.7" text-anchor="start" fill="#2a2a2a" stroke="#2a2a2a" stroke-width="0.2">Регулятор</text>
<text x="903" y="155" font-size="7.7" text-anchor="start" fill="#2a2a2a" stroke="#2a2a2a" stroke-width="0.2">освещённости</text>
<text x="903" y="163" font-size="7.7" text-anchor="start" fill="#2a2a2a" stroke="#2a2a2a" stroke-width="0.2">приборов</text>
</svg></body></html>
